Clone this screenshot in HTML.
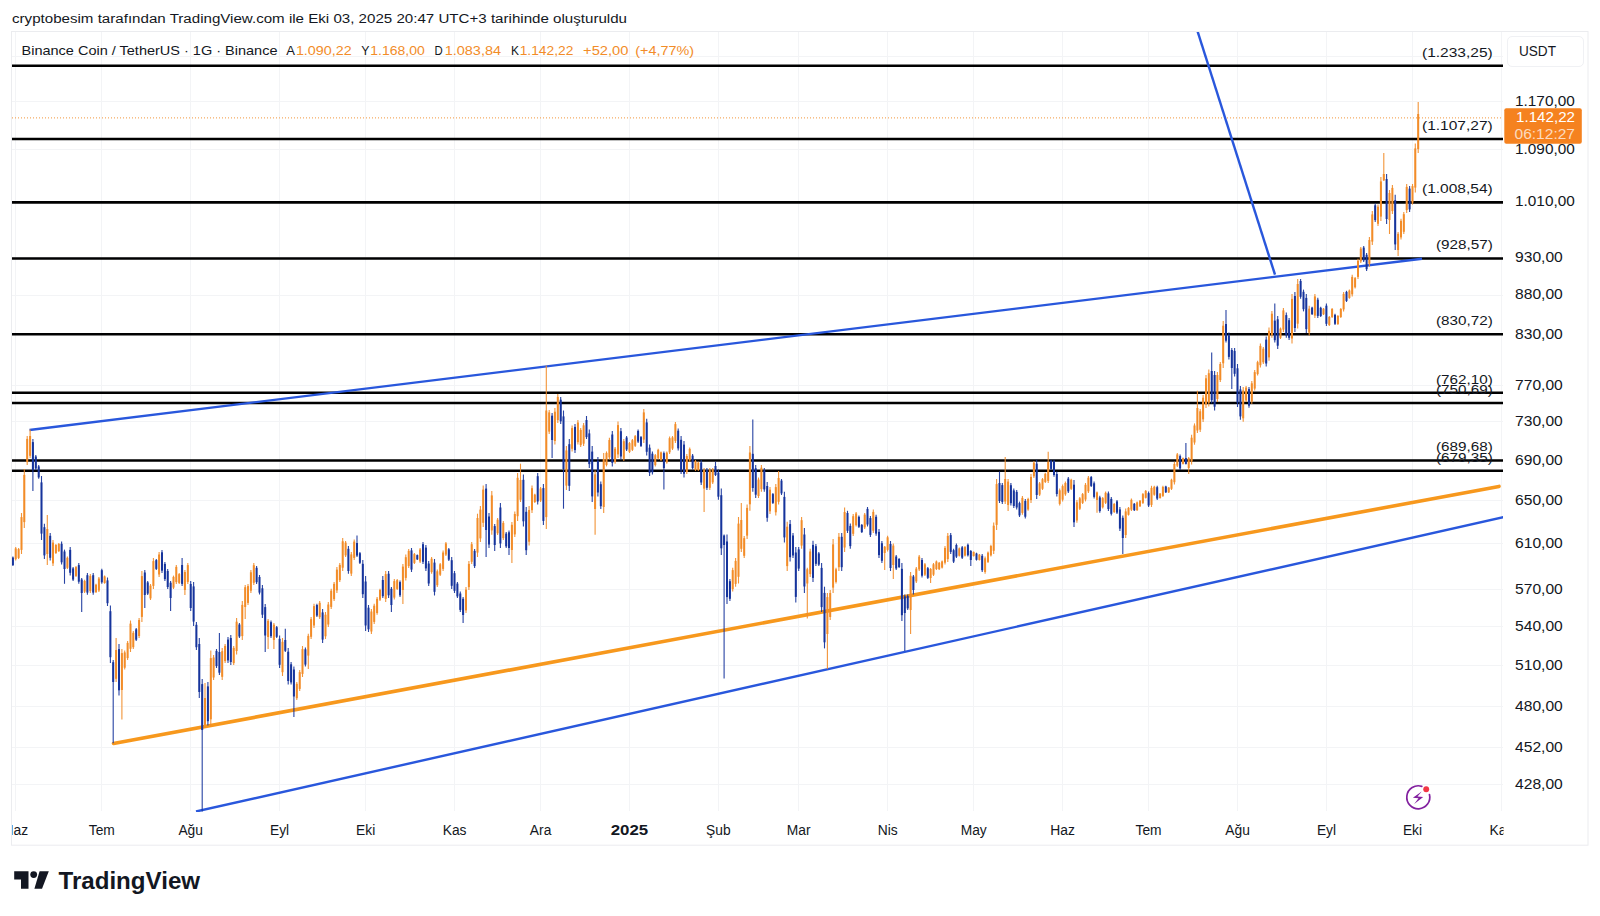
<!DOCTYPE html><html><head><meta charset="utf-8"><title>BNBUSDT</title><style>html,body{margin:0;padding:0;background:#fff}svg{display:block}</style></head><body><svg width="1600" height="916" viewBox="0 0 1600 916" font-family="'Liberation Sans', Arial, sans-serif">
<rect width="1600" height="916" fill="#fff"/>
<text x="12" y="23.3" font-size="13.7" fill="#131722" textLength="615" lengthAdjust="spacingAndGlyphs">cryptobesim tarafından TradingView.com ile Eki 03, 2025 20:47 UTC+3 tarihinde oluşturuldu</text>
<rect x="11.5" y="31.5" width="1576.5" height="813.7" fill="#fff" stroke="#ebecef" stroke-width="1"/>
<g stroke="#f3f4f6" stroke-width="1" shape-rendering="crispEdges">
<line x1="15.5" y1="32" x2="15.5" y2="811"/>
<line x1="101.5" y1="32" x2="101.5" y2="811"/>
<line x1="190.5" y1="32" x2="190.5" y2="811"/>
<line x1="279.5" y1="32" x2="279.5" y2="811"/>
<line x1="365.5" y1="32" x2="365.5" y2="811"/>
<line x1="454.5" y1="32" x2="454.5" y2="811"/>
<line x1="540.5" y1="32" x2="540.5" y2="811"/>
<line x1="629.5" y1="32" x2="629.5" y2="811"/>
<line x1="718.5" y1="32" x2="718.5" y2="811"/>
<line x1="798.5" y1="32" x2="798.5" y2="811"/>
<line x1="887.5" y1="32" x2="887.5" y2="811"/>
<line x1="973.5" y1="32" x2="973.5" y2="811"/>
<line x1="1062.5" y1="32" x2="1062.5" y2="811"/>
<line x1="1148.5" y1="32" x2="1148.5" y2="811"/>
<line x1="1237.5" y1="32" x2="1237.5" y2="811"/>
<line x1="1326.5" y1="32" x2="1326.5" y2="811"/>
<line x1="1412.5" y1="32" x2="1412.5" y2="811"/>
<line x1="1501.5" y1="32" x2="1501.5" y2="811"/>
<line x1="12" y1="56.5" x2="1503" y2="56.5"/>
<line x1="12" y1="101.5" x2="1503" y2="101.5"/>
<line x1="12" y1="149.5" x2="1503" y2="149.5"/>
<line x1="12" y1="201.5" x2="1503" y2="201.5"/>
<line x1="12" y1="257.5" x2="1503" y2="257.5"/>
<line x1="12" y1="295.5" x2="1503" y2="295.5"/>
<line x1="12" y1="334.5" x2="1503" y2="334.5"/>
<line x1="12" y1="385.5" x2="1503" y2="385.5"/>
<line x1="12" y1="421.5" x2="1503" y2="421.5"/>
<line x1="12" y1="460.5" x2="1503" y2="460.5"/>
<line x1="12" y1="500.5" x2="1503" y2="500.5"/>
<line x1="12" y1="543.5" x2="1503" y2="543.5"/>
<line x1="12" y1="589.5" x2="1503" y2="589.5"/>
<line x1="12" y1="626.5" x2="1503" y2="626.5"/>
<line x1="12" y1="665.5" x2="1503" y2="665.5"/>
<line x1="12" y1="706.5" x2="1503" y2="706.5"/>
<line x1="12" y1="747.5" x2="1503" y2="747.5"/>
<line x1="12" y1="784.5" x2="1503" y2="784.5"/>
</g>
<clipPath id="pane"><rect x="12" y="32" width="1491" height="780"/></clipPath>
<g clip-path="url(#pane)">
<line x1="12" y1="117.9" x2="1503" y2="117.9" stroke="#F28C28" stroke-width="1" stroke-dasharray="1 2" opacity="0.9"/>
<line x1="12" y1="65.8" x2="1503" y2="65.8" stroke="#000" stroke-width="2.6"/>
<line x1="12" y1="139.0" x2="1503" y2="139.0" stroke="#000" stroke-width="2.6"/>
<line x1="12" y1="202.4" x2="1503" y2="202.4" stroke="#000" stroke-width="2.6"/>
<line x1="12" y1="258.5" x2="1503" y2="258.5" stroke="#000" stroke-width="2.6"/>
<line x1="12" y1="334.2" x2="1503" y2="334.2" stroke="#000" stroke-width="2.6"/>
<line x1="12" y1="392.7" x2="1503" y2="392.7" stroke="#000" stroke-width="2.6"/>
<line x1="12" y1="403.0" x2="1503" y2="403.0" stroke="#000" stroke-width="2.6"/>
<line x1="12" y1="460.5" x2="1503" y2="460.5" stroke="#000" stroke-width="2.6"/>
<line x1="12" y1="470.8" x2="1503" y2="470.8" stroke="#000" stroke-width="2.6"/>
<line x1="29.5" y1="430" x2="1422" y2="258.7" stroke="#2957DC" stroke-width="2.4"/>
<line x1="196" y1="811.5" x2="1510" y2="515.6" stroke="#2957DC" stroke-width="2.4"/>
<line x1="1196.5" y1="28" x2="1275" y2="274.7" stroke="#2957DC" stroke-width="2.4"/>
<line x1="113.5" y1="743.5" x2="1499" y2="486.4" stroke="#F7981D" stroke-width="3.6" stroke-linecap="round"/>
<g stroke-width="1.1" opacity="0.92"><line x1="12.9" y1="556.5" x2="12.9" y2="566.0" stroke="#16349C"/><line x1="15.7" y1="547.0" x2="15.7" y2="560.5" stroke="#F28C28"/><line x1="18.6" y1="548.0" x2="18.6" y2="559.0" stroke="#F28C28"/><line x1="21.5" y1="513.0" x2="21.5" y2="554.0" stroke="#F28C28"/><line x1="24.3" y1="469.0" x2="24.3" y2="528.0" stroke="#F28C28"/><line x1="27.2" y1="436.0" x2="27.2" y2="465.0" stroke="#F28C28"/><line x1="30.1" y1="429.5" x2="30.1" y2="458.0" stroke="#F28C28"/><line x1="32.9" y1="439.0" x2="32.9" y2="491.0" stroke="#16349C"/><line x1="35.8" y1="455.0" x2="35.8" y2="470.0" stroke="#16349C"/><line x1="38.7" y1="465.0" x2="38.7" y2="478.7" stroke="#16349C"/><line x1="41.5" y1="476.0" x2="41.5" y2="540.0" stroke="#16349C"/><line x1="44.4" y1="523.7" x2="44.4" y2="559.0" stroke="#16349C"/><line x1="47.3" y1="515.0" x2="47.3" y2="565.0" stroke="#F28C28"/><line x1="50.2" y1="533.0" x2="50.2" y2="560.5" stroke="#16349C"/><line x1="53.0" y1="540.0" x2="53.0" y2="566.0" stroke="#F28C28"/><line x1="55.9" y1="544.0" x2="55.9" y2="554.0" stroke="#F28C28"/><line x1="58.8" y1="543.0" x2="58.8" y2="552.0" stroke="#F28C28"/><line x1="61.6" y1="541.5" x2="61.6" y2="564.6" stroke="#16349C"/><line x1="64.5" y1="549.6" x2="64.5" y2="583.8" stroke="#16349C"/><line x1="67.4" y1="556.5" x2="67.4" y2="569.0" stroke="#F28C28"/><line x1="70.2" y1="547.0" x2="70.2" y2="575.6" stroke="#16349C"/><line x1="73.1" y1="567.0" x2="73.1" y2="581.0" stroke="#16349C"/><line x1="76.0" y1="566.0" x2="76.0" y2="577.0" stroke="#F28C28"/><line x1="78.8" y1="563.0" x2="78.8" y2="583.8" stroke="#16349C"/><line x1="81.7" y1="578.0" x2="81.7" y2="612.0" stroke="#16349C"/><line x1="84.6" y1="579.7" x2="84.6" y2="593.0" stroke="#F28C28"/><line x1="87.4" y1="573.0" x2="87.4" y2="594.7" stroke="#16349C"/><line x1="90.3" y1="574.0" x2="90.3" y2="593.0" stroke="#F28C28"/><line x1="93.2" y1="573.0" x2="93.2" y2="594.7" stroke="#16349C"/><line x1="96.0" y1="583.8" x2="96.0" y2="593.0" stroke="#F28C28"/><line x1="98.9" y1="577.0" x2="98.9" y2="592.0" stroke="#F28C28"/><line x1="101.8" y1="568.7" x2="101.8" y2="583.8" stroke="#16349C"/><line x1="104.6" y1="575.6" x2="104.6" y2="583.8" stroke="#F28C28"/><line x1="107.5" y1="577.5" x2="107.5" y2="606.0" stroke="#16349C"/><line x1="110.4" y1="605.5" x2="110.4" y2="663.0" stroke="#16349C"/><line x1="113.2" y1="660.0" x2="113.2" y2="743.3" stroke="#16349C"/><line x1="116.1" y1="638.0" x2="116.1" y2="682.0" stroke="#F28C28"/><line x1="119.0" y1="644.0" x2="119.0" y2="695.5" stroke="#16349C"/><line x1="121.9" y1="649.0" x2="121.9" y2="719.6" stroke="#F28C28"/><line x1="124.7" y1="650.5" x2="124.7" y2="669.6" stroke="#F28C28"/><line x1="127.6" y1="641.0" x2="127.6" y2="660.0" stroke="#F28C28"/><line x1="130.5" y1="620.5" x2="130.5" y2="652.0" stroke="#F28C28"/><line x1="133.3" y1="631.0" x2="133.3" y2="649.0" stroke="#F28C28"/><line x1="136.2" y1="628.0" x2="136.2" y2="641.0" stroke="#16349C"/><line x1="139.1" y1="618.0" x2="139.1" y2="638.0" stroke="#F28C28"/><line x1="141.9" y1="571.0" x2="141.9" y2="622.0" stroke="#F28C28"/><line x1="144.8" y1="570.0" x2="144.8" y2="608.0" stroke="#16349C"/><line x1="147.7" y1="581.0" x2="147.7" y2="595.0" stroke="#16349C"/><line x1="150.5" y1="584.0" x2="150.5" y2="600.0" stroke="#F28C28"/><line x1="153.4" y1="558.0" x2="153.4" y2="589.0" stroke="#F28C28"/><line x1="156.3" y1="559.0" x2="156.3" y2="570.0" stroke="#16349C"/><line x1="159.1" y1="552.0" x2="159.1" y2="577.0" stroke="#F28C28"/><line x1="162.0" y1="550.0" x2="162.0" y2="573.0" stroke="#16349C"/><line x1="164.9" y1="562.0" x2="164.9" y2="581.0" stroke="#16349C"/><line x1="167.7" y1="569.0" x2="167.7" y2="589.0" stroke="#16349C"/><line x1="170.6" y1="581.0" x2="170.6" y2="611.0" stroke="#16349C"/><line x1="173.5" y1="575.6" x2="173.5" y2="589.0" stroke="#F28C28"/><line x1="176.3" y1="565.0" x2="176.3" y2="584.0" stroke="#F28C28"/><line x1="179.2" y1="573.0" x2="179.2" y2="584.0" stroke="#F28C28"/><line x1="182.1" y1="558.0" x2="182.1" y2="586.0" stroke="#16349C"/><line x1="184.9" y1="570.0" x2="184.9" y2="595.0" stroke="#F28C28"/><line x1="187.8" y1="563.0" x2="187.8" y2="584.0" stroke="#F28C28"/><line x1="190.7" y1="581.0" x2="190.7" y2="611.0" stroke="#16349C"/><line x1="193.6" y1="582.0" x2="193.6" y2="626.0" stroke="#16349C"/><line x1="196.4" y1="622.0" x2="196.4" y2="650.0" stroke="#16349C"/><line x1="199.3" y1="638.0" x2="199.3" y2="698.0" stroke="#16349C"/><line x1="202.2" y1="679.0" x2="202.2" y2="811.5" stroke="#16349C"/><line x1="205.0" y1="683.0" x2="205.0" y2="728.0" stroke="#F28C28"/><line x1="207.9" y1="682.0" x2="207.9" y2="725.5" stroke="#16349C"/><line x1="210.8" y1="650.5" x2="210.8" y2="727.0" stroke="#F28C28"/><line x1="213.6" y1="655.0" x2="213.6" y2="680.0" stroke="#F28C28"/><line x1="216.5" y1="649.0" x2="216.5" y2="668.0" stroke="#16349C"/><line x1="219.4" y1="633.0" x2="219.4" y2="675.0" stroke="#16349C"/><line x1="222.2" y1="648.0" x2="222.2" y2="680.0" stroke="#F28C28"/><line x1="225.1" y1="644.0" x2="225.1" y2="663.0" stroke="#F28C28"/><line x1="228.0" y1="637.0" x2="228.0" y2="663.0" stroke="#16349C"/><line x1="230.8" y1="635.0" x2="230.8" y2="665.0" stroke="#16349C"/><line x1="233.7" y1="646.0" x2="233.7" y2="665.0" stroke="#F28C28"/><line x1="236.6" y1="618.0" x2="236.6" y2="654.6" stroke="#F28C28"/><line x1="239.4" y1="623.0" x2="239.4" y2="638.0" stroke="#16349C"/><line x1="242.3" y1="601.0" x2="242.3" y2="640.0" stroke="#F28C28"/><line x1="245.2" y1="585.0" x2="245.2" y2="619.0" stroke="#F28C28"/><line x1="248.0" y1="584.0" x2="248.0" y2="605.0" stroke="#F28C28"/><line x1="250.9" y1="570.0" x2="250.9" y2="593.0" stroke="#F28C28"/><line x1="253.8" y1="563.0" x2="253.8" y2="585.0" stroke="#F28C28"/><line x1="256.6" y1="566.0" x2="256.6" y2="584.0" stroke="#16349C"/><line x1="259.5" y1="575.0" x2="259.5" y2="594.5" stroke="#16349C"/><line x1="262.4" y1="585.0" x2="262.4" y2="618.0" stroke="#16349C"/><line x1="265.2" y1="604.0" x2="265.2" y2="652.0" stroke="#16349C"/><line x1="268.1" y1="619.0" x2="268.1" y2="649.0" stroke="#F28C28"/><line x1="271.0" y1="620.5" x2="271.0" y2="638.0" stroke="#16349C"/><line x1="273.9" y1="623.0" x2="273.9" y2="649.0" stroke="#F28C28"/><line x1="276.7" y1="626.0" x2="276.7" y2="638.0" stroke="#16349C"/><line x1="279.6" y1="635.5" x2="279.6" y2="668.0" stroke="#16349C"/><line x1="282.5" y1="638.0" x2="282.5" y2="676.0" stroke="#F28C28"/><line x1="285.3" y1="628.7" x2="285.3" y2="652.0" stroke="#16349C"/><line x1="288.2" y1="648.0" x2="288.2" y2="684.6" stroke="#16349C"/><line x1="291.1" y1="662.0" x2="291.1" y2="684.6" stroke="#16349C"/><line x1="293.9" y1="666.5" x2="293.9" y2="717.0" stroke="#16349C"/><line x1="296.8" y1="682.0" x2="296.8" y2="700.0" stroke="#F28C28"/><line x1="299.7" y1="670.0" x2="299.7" y2="691.0" stroke="#F28C28"/><line x1="302.5" y1="646.0" x2="302.5" y2="677.0" stroke="#F28C28"/><line x1="305.4" y1="647.4" x2="305.4" y2="666.5" stroke="#16349C"/><line x1="308.3" y1="633.7" x2="308.3" y2="669.0" stroke="#F28C28"/><line x1="311.1" y1="617.0" x2="311.1" y2="639.0" stroke="#F28C28"/><line x1="314.0" y1="603.7" x2="314.0" y2="628.0" stroke="#F28C28"/><line x1="316.9" y1="603.7" x2="316.9" y2="617.0" stroke="#16349C"/><line x1="319.7" y1="601.0" x2="319.7" y2="619.0" stroke="#F28C28"/><line x1="322.6" y1="609.0" x2="322.6" y2="643.0" stroke="#16349C"/><line x1="325.5" y1="612.0" x2="325.5" y2="639.0" stroke="#F28C28"/><line x1="328.3" y1="602.0" x2="328.3" y2="627.0" stroke="#F28C28"/><line x1="331.2" y1="588.7" x2="331.2" y2="609.0" stroke="#F28C28"/><line x1="334.1" y1="582.0" x2="334.1" y2="601.0" stroke="#F28C28"/><line x1="336.9" y1="567.0" x2="336.9" y2="593.0" stroke="#F28C28"/><line x1="339.8" y1="563.0" x2="339.8" y2="582.0" stroke="#F28C28"/><line x1="342.7" y1="538.0" x2="342.7" y2="571.0" stroke="#F28C28"/><line x1="345.6" y1="541.0" x2="345.6" y2="557.0" stroke="#F28C28"/><line x1="348.4" y1="546.0" x2="348.4" y2="573.7" stroke="#16349C"/><line x1="351.3" y1="552.0" x2="351.3" y2="576.0" stroke="#F28C28"/><line x1="354.2" y1="539.6" x2="354.2" y2="560.0" stroke="#F28C28"/><line x1="357.0" y1="535.5" x2="357.0" y2="557.0" stroke="#16349C"/><line x1="359.9" y1="552.0" x2="359.9" y2="564.0" stroke="#16349C"/><line x1="362.8" y1="560.0" x2="362.8" y2="598.0" stroke="#16349C"/><line x1="365.6" y1="576.0" x2="365.6" y2="631.0" stroke="#16349C"/><line x1="368.5" y1="605.0" x2="368.5" y2="632.0" stroke="#16349C"/><line x1="371.4" y1="609.0" x2="371.4" y2="634.0" stroke="#F28C28"/><line x1="374.2" y1="603.7" x2="374.2" y2="624.0" stroke="#F28C28"/><line x1="377.1" y1="597.0" x2="377.1" y2="614.7" stroke="#F28C28"/><line x1="380.0" y1="588.7" x2="380.0" y2="601.0" stroke="#F28C28"/><line x1="382.8" y1="576.0" x2="382.8" y2="598.0" stroke="#16349C"/><line x1="385.7" y1="571.0" x2="385.7" y2="602.0" stroke="#F28C28"/><line x1="388.6" y1="571.0" x2="388.6" y2="598.0" stroke="#16349C"/><line x1="391.4" y1="587.0" x2="391.4" y2="612.0" stroke="#16349C"/><line x1="394.3" y1="579.0" x2="394.3" y2="599.6" stroke="#F28C28"/><line x1="397.2" y1="579.0" x2="397.2" y2="590.0" stroke="#F28C28"/><line x1="400.0" y1="580.5" x2="400.0" y2="597.0" stroke="#16349C"/><line x1="402.9" y1="564.0" x2="402.9" y2="604.0" stroke="#F28C28"/><line x1="405.8" y1="554.6" x2="405.8" y2="580.5" stroke="#F28C28"/><line x1="408.7" y1="549.0" x2="408.7" y2="568.0" stroke="#F28C28"/><line x1="411.5" y1="548.0" x2="411.5" y2="572.0" stroke="#16349C"/><line x1="414.4" y1="553.0" x2="414.4" y2="564.0" stroke="#F28C28"/><line x1="417.3" y1="554.6" x2="417.3" y2="560.0" stroke="#16349C"/><line x1="420.1" y1="548.0" x2="420.1" y2="563.0" stroke="#F28C28"/><line x1="423.0" y1="542.0" x2="423.0" y2="564.0" stroke="#16349C"/><line x1="425.9" y1="545.0" x2="425.9" y2="571.0" stroke="#16349C"/><line x1="428.7" y1="561.0" x2="428.7" y2="586.0" stroke="#16349C"/><line x1="431.6" y1="557.0" x2="431.6" y2="573.7" stroke="#F28C28"/><line x1="434.5" y1="559.0" x2="434.5" y2="595.5" stroke="#16349C"/><line x1="437.3" y1="569.6" x2="437.3" y2="587.0" stroke="#F28C28"/><line x1="440.2" y1="563.0" x2="440.2" y2="576.0" stroke="#F28C28"/><line x1="443.1" y1="550.5" x2="443.1" y2="571.0" stroke="#F28C28"/><line x1="445.9" y1="542.0" x2="445.9" y2="556.0" stroke="#F28C28"/><line x1="448.8" y1="548.0" x2="448.8" y2="561.0" stroke="#16349C"/><line x1="451.7" y1="557.0" x2="451.7" y2="589.0" stroke="#16349C"/><line x1="454.5" y1="571.0" x2="454.5" y2="593.0" stroke="#16349C"/><line x1="457.4" y1="582.0" x2="457.4" y2="598.0" stroke="#16349C"/><line x1="460.3" y1="591.5" x2="460.3" y2="612.0" stroke="#16349C"/><line x1="463.1" y1="597.0" x2="463.1" y2="623.0" stroke="#16349C"/><line x1="466.0" y1="587.0" x2="466.0" y2="613.0" stroke="#F28C28"/><line x1="468.9" y1="561.0" x2="468.9" y2="590.0" stroke="#F28C28"/><line x1="471.7" y1="542.0" x2="471.7" y2="564.0" stroke="#F28C28"/><line x1="474.6" y1="549.0" x2="474.6" y2="568.0" stroke="#16349C"/><line x1="477.5" y1="513.7" x2="477.5" y2="557.0" stroke="#F28C28"/><line x1="480.4" y1="506.0" x2="480.4" y2="542.0" stroke="#F28C28"/><line x1="483.2" y1="485.5" x2="483.2" y2="527.0" stroke="#F28C28"/><line x1="486.1" y1="484.0" x2="486.1" y2="557.0" stroke="#16349C"/><line x1="489.0" y1="513.0" x2="489.0" y2="548.0" stroke="#16349C"/><line x1="491.8" y1="491.0" x2="491.8" y2="534.7" stroke="#F28C28"/><line x1="494.7" y1="524.0" x2="494.7" y2="551.0" stroke="#16349C"/><line x1="497.6" y1="518.0" x2="497.6" y2="535.0" stroke="#F28C28"/><line x1="500.4" y1="503.0" x2="500.4" y2="548.0" stroke="#16349C"/><line x1="503.3" y1="521.0" x2="503.3" y2="540.0" stroke="#F28C28"/><line x1="506.2" y1="532.0" x2="506.2" y2="548.0" stroke="#16349C"/><line x1="509.0" y1="530.6" x2="509.0" y2="555.0" stroke="#16349C"/><line x1="511.9" y1="522.0" x2="511.9" y2="563.0" stroke="#F28C28"/><line x1="514.8" y1="511.5" x2="514.8" y2="537.0" stroke="#F28C28"/><line x1="517.6" y1="473.0" x2="517.6" y2="521.0" stroke="#F28C28"/><line x1="520.5" y1="463.7" x2="520.5" y2="502.0" stroke="#F28C28"/><line x1="523.4" y1="474.6" x2="523.4" y2="526.5" stroke="#16349C"/><line x1="526.2" y1="507.0" x2="526.2" y2="555.0" stroke="#16349C"/><line x1="529.1" y1="506.0" x2="529.1" y2="545.6" stroke="#F28C28"/><line x1="532.0" y1="485.5" x2="532.0" y2="513.0" stroke="#F28C28"/><line x1="534.8" y1="493.7" x2="534.8" y2="503.0" stroke="#F28C28"/><line x1="537.7" y1="473.0" x2="537.7" y2="504.6" stroke="#16349C"/><line x1="540.6" y1="487.0" x2="540.6" y2="502.0" stroke="#F28C28"/><line x1="543.4" y1="484.0" x2="543.4" y2="525.0" stroke="#16349C"/><line x1="546.3" y1="365.5" x2="546.3" y2="529.0" stroke="#F28C28"/><line x1="549.2" y1="410.0" x2="549.2" y2="434.0" stroke="#F28C28"/><line x1="552.1" y1="413.0" x2="552.1" y2="458.0" stroke="#16349C"/><line x1="554.9" y1="408.0" x2="554.9" y2="444.6" stroke="#F28C28"/><line x1="557.8" y1="394.0" x2="557.8" y2="423.0" stroke="#F28C28"/><line x1="560.7" y1="397.0" x2="560.7" y2="424.0" stroke="#16349C"/><line x1="563.5" y1="410.5" x2="563.5" y2="508.7" stroke="#16349C"/><line x1="566.4" y1="446.0" x2="566.4" y2="490.0" stroke="#F28C28"/><line x1="569.3" y1="439.0" x2="569.3" y2="491.0" stroke="#16349C"/><line x1="572.1" y1="425.5" x2="572.1" y2="451.4" stroke="#F28C28"/><line x1="575.0" y1="424.0" x2="575.0" y2="453.0" stroke="#16349C"/><line x1="577.9" y1="420.0" x2="577.9" y2="444.6" stroke="#F28C28"/><line x1="580.7" y1="428.0" x2="580.7" y2="447.0" stroke="#F28C28"/><line x1="583.6" y1="423.0" x2="583.6" y2="446.0" stroke="#F28C28"/><line x1="586.5" y1="416.0" x2="586.5" y2="439.0" stroke="#16349C"/><line x1="589.3" y1="429.6" x2="589.3" y2="468.0" stroke="#16349C"/><line x1="592.2" y1="446.0" x2="592.2" y2="502.0" stroke="#16349C"/><line x1="595.1" y1="470.5" x2="595.1" y2="534.7" stroke="#F28C28"/><line x1="597.9" y1="457.0" x2="597.9" y2="496.5" stroke="#16349C"/><line x1="600.8" y1="481.5" x2="600.8" y2="509.0" stroke="#16349C"/><line x1="603.7" y1="453.0" x2="603.7" y2="513.0" stroke="#F28C28"/><line x1="606.5" y1="451.4" x2="606.5" y2="466.4" stroke="#F28C28"/><line x1="609.4" y1="437.8" x2="609.4" y2="459.6" stroke="#F28C28"/><line x1="612.3" y1="431.0" x2="612.3" y2="466.4" stroke="#16349C"/><line x1="615.1" y1="447.0" x2="615.1" y2="463.7" stroke="#F28C28"/><line x1="618.0" y1="421.4" x2="618.0" y2="458.0" stroke="#F28C28"/><line x1="620.9" y1="428.0" x2="620.9" y2="459.6" stroke="#16349C"/><line x1="623.8" y1="439.0" x2="623.8" y2="461.0" stroke="#F28C28"/><line x1="626.6" y1="436.0" x2="626.6" y2="451.0" stroke="#16349C"/><line x1="629.5" y1="442.0" x2="629.5" y2="453.0" stroke="#F28C28"/><line x1="632.4" y1="439.0" x2="632.4" y2="451.0" stroke="#F28C28"/><line x1="635.2" y1="435.0" x2="635.2" y2="447.0" stroke="#F28C28"/><line x1="638.1" y1="429.6" x2="638.1" y2="443.0" stroke="#16349C"/><line x1="641.0" y1="436.0" x2="641.0" y2="447.0" stroke="#16349C"/><line x1="643.8" y1="409.0" x2="643.8" y2="443.0" stroke="#F28C28"/><line x1="646.7" y1="418.7" x2="646.7" y2="455.5" stroke="#16349C"/><line x1="649.6" y1="444.6" x2="649.6" y2="476.0" stroke="#16349C"/><line x1="652.4" y1="451.4" x2="652.4" y2="474.6" stroke="#16349C"/><line x1="655.3" y1="454.0" x2="655.3" y2="466.4" stroke="#F28C28"/><line x1="658.2" y1="448.7" x2="658.2" y2="459.6" stroke="#F28C28"/><line x1="661.0" y1="451.4" x2="661.0" y2="461.0" stroke="#F28C28"/><line x1="663.9" y1="451.4" x2="663.9" y2="489.6" stroke="#16349C"/><line x1="666.8" y1="451.4" x2="666.8" y2="463.7" stroke="#F28C28"/><line x1="669.6" y1="436.4" x2="669.6" y2="454.0" stroke="#F28C28"/><line x1="672.5" y1="436.0" x2="672.5" y2="450.0" stroke="#F28C28"/><line x1="675.4" y1="422.0" x2="675.4" y2="443.0" stroke="#F28C28"/><line x1="678.2" y1="428.5" x2="678.2" y2="450.6" stroke="#16349C"/><line x1="681.1" y1="436.0" x2="681.1" y2="474.0" stroke="#16349C"/><line x1="684.0" y1="441.0" x2="684.0" y2="477.5" stroke="#16349C"/><line x1="686.8" y1="454.0" x2="686.8" y2="474.0" stroke="#F28C28"/><line x1="689.7" y1="447.5" x2="689.7" y2="461.7" stroke="#F28C28"/><line x1="692.6" y1="454.0" x2="692.6" y2="469.6" stroke="#16349C"/><line x1="695.5" y1="460.0" x2="695.5" y2="471.0" stroke="#F28C28"/><line x1="698.3" y1="461.7" x2="698.3" y2="471.0" stroke="#F28C28"/><line x1="701.2" y1="460.0" x2="701.2" y2="485.0" stroke="#16349C"/><line x1="704.1" y1="468.0" x2="704.1" y2="512.0" stroke="#F28C28"/><line x1="706.9" y1="468.0" x2="706.9" y2="490.0" stroke="#16349C"/><line x1="709.8" y1="468.0" x2="709.8" y2="490.0" stroke="#F28C28"/><line x1="712.7" y1="468.0" x2="712.7" y2="484.0" stroke="#F28C28"/><line x1="715.5" y1="461.7" x2="715.5" y2="476.0" stroke="#16349C"/><line x1="718.4" y1="469.6" x2="718.4" y2="499.7" stroke="#16349C"/><line x1="721.3" y1="488.6" x2="721.3" y2="555.0" stroke="#16349C"/><line x1="724.1" y1="534.5" x2="724.1" y2="678.5" stroke="#16349C"/><line x1="727.0" y1="534.5" x2="727.0" y2="604.0" stroke="#16349C"/><line x1="729.9" y1="579.0" x2="729.9" y2="601.0" stroke="#16349C"/><line x1="732.7" y1="567.7" x2="732.7" y2="591.5" stroke="#F28C28"/><line x1="735.6" y1="558.0" x2="735.6" y2="586.7" stroke="#F28C28"/><line x1="738.5" y1="517.0" x2="738.5" y2="583.5" stroke="#F28C28"/><line x1="741.3" y1="503.0" x2="741.3" y2="552.0" stroke="#F28C28"/><line x1="744.2" y1="536.0" x2="744.2" y2="558.0" stroke="#F28C28"/><line x1="747.1" y1="504.4" x2="747.1" y2="539.0" stroke="#F28C28"/><line x1="749.9" y1="446.0" x2="749.9" y2="510.8" stroke="#F28C28"/><line x1="752.8" y1="419.6" x2="752.8" y2="491.8" stroke="#16349C"/><line x1="755.7" y1="465.0" x2="755.7" y2="498.0" stroke="#16349C"/><line x1="758.5" y1="477.5" x2="758.5" y2="498.0" stroke="#F28C28"/><line x1="761.4" y1="465.0" x2="761.4" y2="491.8" stroke="#F28C28"/><line x1="764.3" y1="468.0" x2="764.3" y2="491.8" stroke="#16349C"/><line x1="767.2" y1="482.0" x2="767.2" y2="521.8" stroke="#16349C"/><line x1="770.0" y1="487.0" x2="770.0" y2="514.0" stroke="#F28C28"/><line x1="772.9" y1="493.0" x2="772.9" y2="504.0" stroke="#16349C"/><line x1="775.8" y1="484.0" x2="775.8" y2="515.5" stroke="#F28C28"/><line x1="778.6" y1="471.0" x2="778.6" y2="504.4" stroke="#F28C28"/><line x1="781.5" y1="479.0" x2="781.5" y2="495.0" stroke="#16349C"/><line x1="784.4" y1="491.8" x2="784.4" y2="542.4" stroke="#16349C"/><line x1="787.2" y1="521.8" x2="787.2" y2="571.0" stroke="#F28C28"/><line x1="790.1" y1="520.0" x2="790.1" y2="561.4" stroke="#16349C"/><line x1="793.0" y1="533.0" x2="793.0" y2="558.0" stroke="#16349C"/><line x1="795.8" y1="547.0" x2="795.8" y2="602.5" stroke="#16349C"/><line x1="798.7" y1="547.0" x2="798.7" y2="571.0" stroke="#16349C"/><line x1="801.6" y1="517.0" x2="801.6" y2="548.7" stroke="#F28C28"/><line x1="804.4" y1="528.0" x2="804.4" y2="593.0" stroke="#16349C"/><line x1="807.3" y1="567.7" x2="807.3" y2="618.4" stroke="#F28C28"/><line x1="810.2" y1="548.7" x2="810.2" y2="577.0" stroke="#F28C28"/><line x1="813.0" y1="540.8" x2="813.0" y2="582.0" stroke="#16349C"/><line x1="815.9" y1="544.0" x2="815.9" y2="566.0" stroke="#16349C"/><line x1="818.8" y1="552.0" x2="818.8" y2="566.0" stroke="#16349C"/><line x1="821.6" y1="563.0" x2="821.6" y2="612.0" stroke="#16349C"/><line x1="824.5" y1="586.7" x2="824.5" y2="648.4" stroke="#16349C"/><line x1="827.4" y1="593.0" x2="827.4" y2="669.0" stroke="#F28C28"/><line x1="830.2" y1="590.0" x2="830.2" y2="620.0" stroke="#F28C28"/><line x1="833.1" y1="539.0" x2="833.1" y2="593.0" stroke="#F28C28"/><line x1="836.0" y1="567.7" x2="836.0" y2="583.5" stroke="#F28C28"/><line x1="838.9" y1="533.0" x2="838.9" y2="571.0" stroke="#F28C28"/><line x1="841.7" y1="533.0" x2="841.7" y2="571.0" stroke="#16349C"/><line x1="844.6" y1="507.6" x2="844.6" y2="552.0" stroke="#F28C28"/><line x1="847.5" y1="510.8" x2="847.5" y2="533.0" stroke="#16349C"/><line x1="850.3" y1="523.4" x2="850.3" y2="548.7" stroke="#16349C"/><line x1="853.2" y1="514.0" x2="853.2" y2="536.0" stroke="#F28C28"/><line x1="856.1" y1="512.0" x2="856.1" y2="526.6" stroke="#F28C28"/><line x1="858.9" y1="515.5" x2="858.9" y2="528.0" stroke="#16349C"/><line x1="861.8" y1="524.0" x2="861.8" y2="533.0" stroke="#16349C"/><line x1="864.7" y1="513.0" x2="864.7" y2="529.0" stroke="#F28C28"/><line x1="867.5" y1="507.0" x2="867.5" y2="526.5" stroke="#16349C"/><line x1="870.4" y1="516.0" x2="870.4" y2="537.0" stroke="#16349C"/><line x1="873.3" y1="509.5" x2="873.3" y2="533.0" stroke="#F28C28"/><line x1="876.1" y1="514.7" x2="876.1" y2="535.7" stroke="#16349C"/><line x1="879.0" y1="529.0" x2="879.0" y2="558.0" stroke="#16349C"/><line x1="881.9" y1="541.0" x2="881.9" y2="563.0" stroke="#16349C"/><line x1="884.7" y1="546.0" x2="884.7" y2="570.0" stroke="#F28C28"/><line x1="887.6" y1="535.7" x2="887.6" y2="551.4" stroke="#F28C28"/><line x1="890.5" y1="541.0" x2="890.5" y2="571.0" stroke="#16349C"/><line x1="893.3" y1="543.5" x2="893.3" y2="579.0" stroke="#F28C28"/><line x1="896.2" y1="555.0" x2="896.2" y2="570.0" stroke="#16349C"/><line x1="899.1" y1="558.0" x2="899.1" y2="568.0" stroke="#16349C"/><line x1="901.9" y1="563.0" x2="901.9" y2="621.0" stroke="#16349C"/><line x1="904.8" y1="594.6" x2="904.8" y2="651.0" stroke="#16349C"/><line x1="907.7" y1="594.6" x2="907.7" y2="610.0" stroke="#16349C"/><line x1="910.6" y1="572.0" x2="910.6" y2="634.0" stroke="#F28C28"/><line x1="913.4" y1="575.0" x2="913.4" y2="594.6" stroke="#16349C"/><line x1="916.3" y1="567.0" x2="916.3" y2="583.0" stroke="#F28C28"/><line x1="919.2" y1="555.0" x2="919.2" y2="571.0" stroke="#F28C28"/><line x1="922.0" y1="558.0" x2="922.0" y2="577.6" stroke="#16349C"/><line x1="924.9" y1="563.0" x2="924.9" y2="576.0" stroke="#F28C28"/><line x1="927.8" y1="567.0" x2="927.8" y2="579.0" stroke="#16349C"/><line x1="930.6" y1="568.0" x2="930.6" y2="583.0" stroke="#F28C28"/><line x1="933.5" y1="563.0" x2="933.5" y2="576.0" stroke="#F28C28"/><line x1="936.4" y1="560.6" x2="936.4" y2="570.0" stroke="#F28C28"/><line x1="939.2" y1="562.0" x2="939.2" y2="570.0" stroke="#F28C28"/><line x1="942.1" y1="560.6" x2="942.1" y2="568.4" stroke="#F28C28"/><line x1="945.0" y1="546.0" x2="945.0" y2="564.5" stroke="#F28C28"/><line x1="947.8" y1="533.0" x2="947.8" y2="562.0" stroke="#F28C28"/><line x1="950.7" y1="533.0" x2="950.7" y2="554.0" stroke="#16349C"/><line x1="953.6" y1="548.8" x2="953.6" y2="563.0" stroke="#16349C"/><line x1="956.4" y1="543.5" x2="956.4" y2="558.0" stroke="#16349C"/><line x1="959.3" y1="547.5" x2="959.3" y2="556.6" stroke="#F28C28"/><line x1="962.2" y1="546.0" x2="962.2" y2="559.0" stroke="#16349C"/><line x1="965.0" y1="546.0" x2="965.0" y2="556.6" stroke="#F28C28"/><line x1="967.9" y1="543.5" x2="967.9" y2="556.6" stroke="#16349C"/><line x1="970.8" y1="550.0" x2="970.8" y2="566.0" stroke="#16349C"/><line x1="973.6" y1="551.4" x2="973.6" y2="556.6" stroke="#F28C28"/><line x1="976.5" y1="552.7" x2="976.5" y2="560.6" stroke="#16349C"/><line x1="979.4" y1="554.0" x2="979.4" y2="560.6" stroke="#F28C28"/><line x1="982.2" y1="554.0" x2="982.2" y2="572.0" stroke="#16349C"/><line x1="985.1" y1="556.6" x2="985.1" y2="573.7" stroke="#F28C28"/><line x1="988.0" y1="551.4" x2="988.0" y2="563.0" stroke="#F28C28"/><line x1="990.9" y1="544.8" x2="990.9" y2="556.6" stroke="#F28C28"/><line x1="993.7" y1="522.6" x2="993.7" y2="554.0" stroke="#F28C28"/><line x1="996.6" y1="479.0" x2="996.6" y2="530.0" stroke="#F28C28"/><line x1="999.5" y1="471.5" x2="999.5" y2="503.0" stroke="#16349C"/><line x1="1002.3" y1="483.0" x2="1002.3" y2="504.0" stroke="#16349C"/><line x1="1005.2" y1="457.0" x2="1005.2" y2="504.0" stroke="#F28C28"/><line x1="1008.1" y1="479.0" x2="1008.1" y2="511.0" stroke="#F28C28"/><line x1="1010.9" y1="483.0" x2="1010.9" y2="505.5" stroke="#16349C"/><line x1="1013.8" y1="488.5" x2="1013.8" y2="508.0" stroke="#16349C"/><line x1="1016.7" y1="490.0" x2="1016.7" y2="509.5" stroke="#16349C"/><line x1="1019.5" y1="501.6" x2="1019.5" y2="517.0" stroke="#16349C"/><line x1="1022.4" y1="496.0" x2="1022.4" y2="514.7" stroke="#F28C28"/><line x1="1025.3" y1="499.0" x2="1025.3" y2="518.6" stroke="#16349C"/><line x1="1028.1" y1="497.7" x2="1028.1" y2="510.8" stroke="#F28C28"/><line x1="1031.0" y1="474.0" x2="1031.0" y2="503.0" stroke="#F28C28"/><line x1="1033.9" y1="461.0" x2="1033.9" y2="478.0" stroke="#F28C28"/><line x1="1036.7" y1="459.7" x2="1036.7" y2="499.0" stroke="#16349C"/><line x1="1039.6" y1="482.0" x2="1039.6" y2="496.0" stroke="#F28C28"/><line x1="1042.5" y1="478.0" x2="1042.5" y2="490.0" stroke="#F28C28"/><line x1="1045.3" y1="472.8" x2="1045.3" y2="483.0" stroke="#F28C28"/><line x1="1048.2" y1="451.8" x2="1048.2" y2="483.0" stroke="#F28C28"/><line x1="1051.1" y1="459.7" x2="1051.1" y2="470.0" stroke="#16349C"/><line x1="1054.0" y1="459.7" x2="1054.0" y2="476.7" stroke="#16349C"/><line x1="1056.8" y1="471.5" x2="1056.8" y2="496.5" stroke="#16349C"/><line x1="1059.7" y1="488.6" x2="1059.7" y2="505.6" stroke="#F28C28"/><line x1="1062.6" y1="484.4" x2="1062.6" y2="501.4" stroke="#F28C28"/><line x1="1065.4" y1="481.6" x2="1065.4" y2="495.7" stroke="#F28C28"/><line x1="1068.3" y1="477.0" x2="1068.3" y2="493.0" stroke="#16349C"/><line x1="1071.2" y1="478.7" x2="1071.2" y2="490.0" stroke="#F28C28"/><line x1="1074.0" y1="480.0" x2="1074.0" y2="527.0" stroke="#16349C"/><line x1="1076.9" y1="500.0" x2="1076.9" y2="522.7" stroke="#F28C28"/><line x1="1079.8" y1="497.0" x2="1079.8" y2="510.0" stroke="#F28C28"/><line x1="1082.6" y1="493.0" x2="1082.6" y2="504.0" stroke="#F28C28"/><line x1="1085.5" y1="483.0" x2="1085.5" y2="501.4" stroke="#F28C28"/><line x1="1088.4" y1="476.0" x2="1088.4" y2="493.0" stroke="#F28C28"/><line x1="1091.2" y1="476.0" x2="1091.2" y2="487.0" stroke="#16349C"/><line x1="1094.1" y1="481.6" x2="1094.1" y2="498.6" stroke="#16349C"/><line x1="1097.0" y1="491.5" x2="1097.0" y2="512.8" stroke="#F28C28"/><line x1="1099.8" y1="495.7" x2="1099.8" y2="512.8" stroke="#16349C"/><line x1="1102.7" y1="497.0" x2="1102.7" y2="508.5" stroke="#F28C28"/><line x1="1105.6" y1="491.5" x2="1105.6" y2="504.0" stroke="#F28C28"/><line x1="1108.4" y1="491.5" x2="1108.4" y2="511.0" stroke="#16349C"/><line x1="1111.3" y1="497.0" x2="1111.3" y2="515.6" stroke="#16349C"/><line x1="1114.2" y1="503.0" x2="1114.2" y2="513.0" stroke="#F28C28"/><line x1="1117.0" y1="500.0" x2="1117.0" y2="514.0" stroke="#16349C"/><line x1="1119.9" y1="507.0" x2="1119.9" y2="531.0" stroke="#16349C"/><line x1="1122.8" y1="515.6" x2="1122.8" y2="554.0" stroke="#16349C"/><line x1="1125.7" y1="508.5" x2="1125.7" y2="538.0" stroke="#F28C28"/><line x1="1128.5" y1="507.0" x2="1128.5" y2="515.6" stroke="#F28C28"/><line x1="1131.4" y1="498.6" x2="1131.4" y2="511.0" stroke="#F28C28"/><line x1="1134.3" y1="503.0" x2="1134.3" y2="511.0" stroke="#16349C"/><line x1="1137.1" y1="501.4" x2="1137.1" y2="511.0" stroke="#F28C28"/><line x1="1140.0" y1="500.0" x2="1140.0" y2="507.0" stroke="#F28C28"/><line x1="1142.9" y1="493.0" x2="1142.9" y2="504.0" stroke="#F28C28"/><line x1="1145.7" y1="490.0" x2="1145.7" y2="498.6" stroke="#F28C28"/><line x1="1148.6" y1="491.5" x2="1148.6" y2="507.0" stroke="#16349C"/><line x1="1151.5" y1="485.8" x2="1151.5" y2="507.0" stroke="#F28C28"/><line x1="1154.3" y1="485.8" x2="1154.3" y2="495.7" stroke="#F28C28"/><line x1="1157.2" y1="485.8" x2="1157.2" y2="500.0" stroke="#16349C"/><line x1="1160.1" y1="493.0" x2="1160.1" y2="498.6" stroke="#F28C28"/><line x1="1162.9" y1="485.8" x2="1162.9" y2="497.0" stroke="#F28C28"/><line x1="1165.8" y1="485.8" x2="1165.8" y2="493.0" stroke="#16349C"/><line x1="1168.7" y1="487.0" x2="1168.7" y2="493.0" stroke="#F28C28"/><line x1="1171.5" y1="478.7" x2="1171.5" y2="490.0" stroke="#F28C28"/><line x1="1174.4" y1="461.7" x2="1174.4" y2="484.4" stroke="#F28C28"/><line x1="1177.3" y1="453.0" x2="1177.3" y2="467.0" stroke="#F28C28"/><line x1="1180.1" y1="454.6" x2="1180.1" y2="470.0" stroke="#16349C"/><line x1="1183.0" y1="457.5" x2="1183.0" y2="464.5" stroke="#F28C28"/><line x1="1185.9" y1="443.0" x2="1185.9" y2="464.5" stroke="#16349C"/><line x1="1188.7" y1="457.0" x2="1188.7" y2="474.0" stroke="#F28C28"/><line x1="1191.6" y1="434.7" x2="1191.6" y2="464.5" stroke="#F28C28"/><line x1="1194.5" y1="423.4" x2="1194.5" y2="444.7" stroke="#F28C28"/><line x1="1197.4" y1="390.8" x2="1197.4" y2="433.0" stroke="#F28C28"/><line x1="1200.2" y1="409.0" x2="1200.2" y2="432.0" stroke="#F28C28"/><line x1="1203.1" y1="395.0" x2="1203.1" y2="422.0" stroke="#F28C28"/><line x1="1206.0" y1="375.0" x2="1206.0" y2="408.0" stroke="#F28C28"/><line x1="1208.8" y1="369.5" x2="1208.8" y2="406.4" stroke="#F28C28"/><line x1="1211.7" y1="352.5" x2="1211.7" y2="403.5" stroke="#16349C"/><line x1="1214.6" y1="371.0" x2="1214.6" y2="410.6" stroke="#16349C"/><line x1="1217.4" y1="372.0" x2="1217.4" y2="402.0" stroke="#F28C28"/><line x1="1220.3" y1="362.0" x2="1220.3" y2="382.0" stroke="#F28C28"/><line x1="1223.2" y1="321.0" x2="1223.2" y2="368.0" stroke="#F28C28"/><line x1="1226.0" y1="310.0" x2="1226.0" y2="342.6" stroke="#16349C"/><line x1="1228.9" y1="332.6" x2="1228.9" y2="359.6" stroke="#16349C"/><line x1="1231.8" y1="348.0" x2="1231.8" y2="389.0" stroke="#16349C"/><line x1="1234.6" y1="348.0" x2="1234.6" y2="376.6" stroke="#16349C"/><line x1="1237.5" y1="364.0" x2="1237.5" y2="407.0" stroke="#16349C"/><line x1="1240.4" y1="386.0" x2="1240.4" y2="419.8" stroke="#16349C"/><line x1="1243.2" y1="387.0" x2="1243.2" y2="421.7" stroke="#F28C28"/><line x1="1246.1" y1="386.0" x2="1246.1" y2="402.0" stroke="#F28C28"/><line x1="1249.0" y1="387.0" x2="1249.0" y2="407.8" stroke="#16349C"/><line x1="1251.8" y1="381.0" x2="1251.8" y2="404.0" stroke="#F28C28"/><line x1="1254.7" y1="370.0" x2="1254.7" y2="390.6" stroke="#F28C28"/><line x1="1257.6" y1="360.7" x2="1257.6" y2="375.6" stroke="#F28C28"/><line x1="1260.4" y1="343.5" x2="1260.4" y2="367.6" stroke="#F28C28"/><line x1="1263.3" y1="347.0" x2="1263.3" y2="364.0" stroke="#F28C28"/><line x1="1266.2" y1="336.6" x2="1266.2" y2="366.5" stroke="#16349C"/><line x1="1269.0" y1="327.5" x2="1269.0" y2="360.7" stroke="#F28C28"/><line x1="1271.9" y1="311.0" x2="1271.9" y2="337.8" stroke="#F28C28"/><line x1="1274.8" y1="303.4" x2="1274.8" y2="342.4" stroke="#16349C"/><line x1="1277.7" y1="316.0" x2="1277.7" y2="349.0" stroke="#16349C"/><line x1="1280.5" y1="327.5" x2="1280.5" y2="339.0" stroke="#F28C28"/><line x1="1283.4" y1="308.0" x2="1283.4" y2="332.0" stroke="#F28C28"/><line x1="1286.3" y1="312.6" x2="1286.3" y2="337.8" stroke="#16349C"/><line x1="1289.1" y1="318.0" x2="1289.1" y2="340.0" stroke="#16349C"/><line x1="1292.0" y1="294.0" x2="1292.0" y2="343.5" stroke="#F28C28"/><line x1="1294.9" y1="292.0" x2="1294.9" y2="332.0" stroke="#16349C"/><line x1="1297.7" y1="279.0" x2="1297.7" y2="328.6" stroke="#F28C28"/><line x1="1300.6" y1="279.0" x2="1300.6" y2="298.8" stroke="#16349C"/><line x1="1303.5" y1="289.6" x2="1303.5" y2="311.4" stroke="#16349C"/><line x1="1306.3" y1="294.0" x2="1306.3" y2="333.0" stroke="#16349C"/><line x1="1309.2" y1="305.7" x2="1309.2" y2="335.5" stroke="#F28C28"/><line x1="1312.1" y1="306.8" x2="1312.1" y2="315.0" stroke="#16349C"/><line x1="1314.9" y1="294.0" x2="1314.9" y2="318.0" stroke="#F28C28"/><line x1="1317.8" y1="297.7" x2="1317.8" y2="318.0" stroke="#16349C"/><line x1="1320.7" y1="306.8" x2="1320.7" y2="317.0" stroke="#16349C"/><line x1="1323.5" y1="308.0" x2="1323.5" y2="315.0" stroke="#F28C28"/><line x1="1326.4" y1="303.4" x2="1326.4" y2="326.0" stroke="#16349C"/><line x1="1329.3" y1="316.0" x2="1329.3" y2="326.0" stroke="#F28C28"/><line x1="1332.1" y1="308.0" x2="1332.1" y2="318.0" stroke="#F28C28"/><line x1="1335.0" y1="313.7" x2="1335.0" y2="325.0" stroke="#16349C"/><line x1="1337.9" y1="315.0" x2="1337.9" y2="325.0" stroke="#F28C28"/><line x1="1340.8" y1="308.0" x2="1340.8" y2="318.0" stroke="#F28C28"/><line x1="1343.6" y1="292.0" x2="1343.6" y2="311.4" stroke="#F28C28"/><line x1="1346.5" y1="290.8" x2="1346.5" y2="302.0" stroke="#16349C"/><line x1="1349.4" y1="289.6" x2="1349.4" y2="298.8" stroke="#F28C28"/><line x1="1352.2" y1="274.7" x2="1352.2" y2="296.5" stroke="#F28C28"/><line x1="1355.1" y1="277.0" x2="1355.1" y2="288.5" stroke="#F28C28"/><line x1="1358.0" y1="258.7" x2="1358.0" y2="279.0" stroke="#F28C28"/><line x1="1360.8" y1="247.0" x2="1360.8" y2="263.0" stroke="#F28C28"/><line x1="1363.7" y1="246.0" x2="1363.7" y2="262.0" stroke="#16349C"/><line x1="1366.6" y1="253.0" x2="1366.6" y2="271.0" stroke="#16349C"/><line x1="1369.4" y1="237.0" x2="1369.4" y2="266.7" stroke="#F28C28"/><line x1="1372.3" y1="211.0" x2="1372.3" y2="245.0" stroke="#F28C28"/><line x1="1375.2" y1="203.5" x2="1375.2" y2="222.0" stroke="#16349C"/><line x1="1378.0" y1="204.6" x2="1378.0" y2="226.0" stroke="#F28C28"/><line x1="1380.9" y1="177.0" x2="1380.9" y2="221.0" stroke="#F28C28"/><line x1="1383.8" y1="153.0" x2="1383.8" y2="181.0" stroke="#F28C28"/><line x1="1386.6" y1="174.0" x2="1386.6" y2="224.0" stroke="#16349C"/><line x1="1389.5" y1="190.0" x2="1389.5" y2="234.0" stroke="#F28C28"/><line x1="1392.4" y1="185.0" x2="1392.4" y2="214.0" stroke="#F28C28"/><line x1="1395.2" y1="194.7" x2="1395.2" y2="250.0" stroke="#16349C"/><line x1="1398.1" y1="232.0" x2="1398.1" y2="256.0" stroke="#F28C28"/><line x1="1401.0" y1="218.7" x2="1401.0" y2="239.5" stroke="#F28C28"/><line x1="1403.8" y1="212.0" x2="1403.8" y2="234.0" stroke="#F28C28"/><line x1="1406.7" y1="184.0" x2="1406.7" y2="213.0" stroke="#F28C28"/><line x1="1409.6" y1="186.0" x2="1409.6" y2="212.0" stroke="#16349C"/><line x1="1412.5" y1="184.0" x2="1412.5" y2="204.6" stroke="#F28C28"/><line x1="1415.3" y1="143.5" x2="1415.3" y2="192.5" stroke="#F28C28"/><line x1="1418.2" y1="102.0" x2="1418.2" y2="153.0" stroke="#F28C28"/></g>
<g><rect x="11.9" y="557.5" width="2" height="7.6" fill="#16349C"/><rect x="14.7" y="548.4" width="2" height="10.8" fill="#F28C28"/><rect x="17.6" y="549.1" width="2" height="8.8" fill="#F28C28"/><rect x="20.5" y="517.1" width="2" height="32.8" fill="#F28C28"/><rect x="23.3" y="474.9" width="2" height="47.2" fill="#F28C28"/><rect x="26.2" y="438.9" width="2" height="23.2" fill="#F28C28"/><rect x="29.1" y="436.0" width="2" height="19.8" fill="#F28C28"/><rect x="31.9" y="442.1" width="2" height="27.9" fill="#16349C"/><rect x="34.8" y="456.5" width="2" height="12.0" fill="#16349C"/><rect x="37.7" y="466.4" width="2" height="11.0" fill="#16349C"/><rect x="40.5" y="482.4" width="2" height="51.2" fill="#16349C"/><rect x="43.4" y="527.2" width="2" height="28.2" fill="#16349C"/><rect x="46.3" y="529.0" width="2" height="25.0" fill="#F28C28"/><rect x="49.2" y="535.8" width="2" height="22.0" fill="#16349C"/><rect x="52.0" y="542.6" width="2" height="20.8" fill="#F28C28"/><rect x="54.9" y="545.0" width="2" height="8.0" fill="#F28C28"/><rect x="57.8" y="543.9" width="2" height="7.2" fill="#F28C28"/><rect x="60.6" y="543.8" width="2" height="18.5" fill="#16349C"/><rect x="63.5" y="551.5" width="2" height="17.5" fill="#16349C"/><rect x="66.4" y="557.8" width="2" height="10.0" fill="#F28C28"/><rect x="69.2" y="549.9" width="2" height="22.9" fill="#16349C"/><rect x="72.1" y="568.4" width="2" height="11.2" fill="#16349C"/><rect x="75.0" y="567.1" width="2" height="8.8" fill="#F28C28"/><rect x="77.8" y="565.1" width="2" height="16.6" fill="#16349C"/><rect x="80.7" y="579.5" width="2" height="13.5" fill="#16349C"/><rect x="83.6" y="581.0" width="2" height="10.6" fill="#F28C28"/><rect x="86.4" y="575.2" width="2" height="17.4" fill="#16349C"/><rect x="89.3" y="575.9" width="2" height="15.2" fill="#F28C28"/><rect x="92.2" y="575.2" width="2" height="17.4" fill="#16349C"/><rect x="95.0" y="584.7" width="2" height="7.4" fill="#F28C28"/><rect x="97.9" y="578.5" width="2" height="12.0" fill="#F28C28"/><rect x="100.8" y="570.2" width="2" height="12.1" fill="#16349C"/><rect x="103.6" y="576.4" width="2" height="6.6" fill="#F28C28"/><rect x="106.5" y="580.4" width="2" height="22.8" fill="#16349C"/><rect x="109.4" y="611.2" width="2" height="46.0" fill="#16349C"/><rect x="112.2" y="662.2" width="2" height="19.8" fill="#16349C"/><rect x="115.1" y="650.0" width="2" height="28.8" fill="#F28C28"/><rect x="118.0" y="649.1" width="2" height="41.2" fill="#16349C"/><rect x="120.9" y="653.1" width="2" height="36.9" fill="#F28C28"/><rect x="123.7" y="652.4" width="2" height="15.3" fill="#F28C28"/><rect x="126.6" y="642.9" width="2" height="15.2" fill="#F28C28"/><rect x="129.5" y="623.6" width="2" height="25.2" fill="#F28C28"/><rect x="132.3" y="632.8" width="2" height="14.4" fill="#F28C28"/><rect x="135.2" y="629.3" width="2" height="10.4" fill="#16349C"/><rect x="138.1" y="620.0" width="2" height="16.0" fill="#F28C28"/><rect x="140.9" y="576.1" width="2" height="40.8" fill="#F28C28"/><rect x="143.8" y="572.5" width="2" height="22.5" fill="#16349C"/><rect x="146.7" y="582.4" width="2" height="11.2" fill="#16349C"/><rect x="149.5" y="585.6" width="2" height="12.8" fill="#F28C28"/><rect x="152.4" y="561.1" width="2" height="24.8" fill="#F28C28"/><rect x="155.3" y="560.1" width="2" height="8.8" fill="#16349C"/><rect x="158.1" y="554.5" width="2" height="20.0" fill="#F28C28"/><rect x="161.0" y="552.3" width="2" height="18.4" fill="#16349C"/><rect x="163.9" y="563.9" width="2" height="15.2" fill="#16349C"/><rect x="166.7" y="571.0" width="2" height="16.0" fill="#16349C"/><rect x="169.6" y="582.7" width="2" height="15.3" fill="#16349C"/><rect x="172.5" y="576.9" width="2" height="10.7" fill="#F28C28"/><rect x="175.3" y="566.9" width="2" height="15.2" fill="#F28C28"/><rect x="178.2" y="574.1" width="2" height="8.8" fill="#F28C28"/><rect x="181.1" y="565.0" width="2" height="18.9" fill="#16349C"/><rect x="183.9" y="572.0" width="2" height="18.0" fill="#F28C28"/><rect x="186.8" y="565.1" width="2" height="16.8" fill="#F28C28"/><rect x="189.7" y="584.0" width="2" height="24.0" fill="#16349C"/><rect x="192.6" y="586.4" width="2" height="35.2" fill="#16349C"/><rect x="195.4" y="624.8" width="2" height="22.4" fill="#16349C"/><rect x="198.3" y="644.0" width="2" height="48.0" fill="#16349C"/><rect x="201.2" y="684.1" width="2" height="45.9" fill="#16349C"/><rect x="204.0" y="698.0" width="2" height="27.0" fill="#F28C28"/><rect x="206.9" y="686.4" width="2" height="34.8" fill="#16349C"/><rect x="209.8" y="658.1" width="2" height="61.2" fill="#F28C28"/><rect x="212.6" y="657.5" width="2" height="20.0" fill="#F28C28"/><rect x="215.5" y="650.9" width="2" height="15.2" fill="#16349C"/><rect x="218.4" y="652.0" width="2" height="20.7" fill="#16349C"/><rect x="221.2" y="651.2" width="2" height="25.6" fill="#F28C28"/><rect x="224.1" y="645.9" width="2" height="15.2" fill="#F28C28"/><rect x="227.0" y="639.6" width="2" height="20.8" fill="#16349C"/><rect x="229.8" y="638.0" width="2" height="24.0" fill="#16349C"/><rect x="232.7" y="647.9" width="2" height="15.2" fill="#F28C28"/><rect x="235.6" y="621.7" width="2" height="29.3" fill="#F28C28"/><rect x="238.4" y="624.5" width="2" height="12.0" fill="#16349C"/><rect x="241.3" y="604.9" width="2" height="31.2" fill="#F28C28"/><rect x="244.2" y="587.2" width="2" height="19.8" fill="#F28C28"/><rect x="247.0" y="586.1" width="2" height="16.8" fill="#F28C28"/><rect x="249.9" y="572.3" width="2" height="18.4" fill="#F28C28"/><rect x="252.8" y="565.2" width="2" height="17.6" fill="#F28C28"/><rect x="255.6" y="567.8" width="2" height="14.4" fill="#16349C"/><rect x="258.5" y="577.0" width="2" height="15.6" fill="#16349C"/><rect x="261.4" y="588.3" width="2" height="26.4" fill="#16349C"/><rect x="264.2" y="607.1" width="2" height="28.4" fill="#16349C"/><rect x="267.1" y="620.8" width="2" height="16.2" fill="#F28C28"/><rect x="270.0" y="622.2" width="2" height="14.0" fill="#16349C"/><rect x="272.9" y="624.7" width="2" height="15.3" fill="#F28C28"/><rect x="275.7" y="627.2" width="2" height="9.6" fill="#16349C"/><rect x="278.6" y="638.8" width="2" height="26.0" fill="#16349C"/><rect x="281.5" y="641.8" width="2" height="30.4" fill="#F28C28"/><rect x="284.3" y="640.0" width="2" height="10.8" fill="#16349C"/><rect x="287.2" y="651.7" width="2" height="29.3" fill="#16349C"/><rect x="290.1" y="664.3" width="2" height="18.1" fill="#16349C"/><rect x="292.9" y="669.5" width="2" height="27.0" fill="#16349C"/><rect x="295.8" y="683.8" width="2" height="14.4" fill="#F28C28"/><rect x="298.7" y="672.1" width="2" height="16.8" fill="#F28C28"/><rect x="301.5" y="649.1" width="2" height="24.8" fill="#F28C28"/><rect x="304.4" y="649.3" width="2" height="15.3" fill="#16349C"/><rect x="307.3" y="635.9" width="2" height="19.7" fill="#F28C28"/><rect x="310.1" y="619.2" width="2" height="17.6" fill="#F28C28"/><rect x="313.0" y="606.1" width="2" height="19.4" fill="#F28C28"/><rect x="315.9" y="605.0" width="2" height="10.6" fill="#16349C"/><rect x="318.7" y="602.8" width="2" height="14.4" fill="#F28C28"/><rect x="321.6" y="612.4" width="2" height="27.2" fill="#16349C"/><rect x="324.5" y="614.7" width="2" height="21.6" fill="#F28C28"/><rect x="327.3" y="604.5" width="2" height="20.0" fill="#F28C28"/><rect x="330.2" y="590.7" width="2" height="16.2" fill="#F28C28"/><rect x="333.1" y="583.9" width="2" height="15.2" fill="#F28C28"/><rect x="335.9" y="569.6" width="2" height="20.8" fill="#F28C28"/><rect x="338.8" y="564.9" width="2" height="15.2" fill="#F28C28"/><rect x="341.7" y="541.3" width="2" height="26.4" fill="#F28C28"/><rect x="344.6" y="542.6" width="2" height="12.8" fill="#F28C28"/><rect x="347.4" y="548.8" width="2" height="22.2" fill="#16349C"/><rect x="350.3" y="554.4" width="2" height="19.2" fill="#F28C28"/><rect x="353.2" y="541.6" width="2" height="16.3" fill="#F28C28"/><rect x="356.0" y="543.0" width="2" height="12.6" fill="#16349C"/><rect x="358.9" y="553.2" width="2" height="9.6" fill="#16349C"/><rect x="361.8" y="563.8" width="2" height="30.4" fill="#16349C"/><rect x="364.6" y="581.5" width="2" height="44.0" fill="#16349C"/><rect x="367.5" y="607.7" width="2" height="21.6" fill="#16349C"/><rect x="370.4" y="611.5" width="2" height="20.0" fill="#F28C28"/><rect x="373.2" y="605.7" width="2" height="16.2" fill="#F28C28"/><rect x="376.1" y="598.8" width="2" height="14.2" fill="#F28C28"/><rect x="379.0" y="589.9" width="2" height="9.8" fill="#F28C28"/><rect x="381.8" y="580.0" width="2" height="16.2" fill="#16349C"/><rect x="384.7" y="574.1" width="2" height="24.8" fill="#F28C28"/><rect x="387.6" y="573.7" width="2" height="21.6" fill="#16349C"/><rect x="390.4" y="588.8" width="2" height="16.2" fill="#16349C"/><rect x="393.3" y="581.1" width="2" height="16.5" fill="#F28C28"/><rect x="396.2" y="580.1" width="2" height="8.8" fill="#F28C28"/><rect x="399.0" y="582.1" width="2" height="13.2" fill="#16349C"/><rect x="401.9" y="566.6" width="2" height="23.4" fill="#F28C28"/><rect x="404.8" y="557.2" width="2" height="20.7" fill="#F28C28"/><rect x="407.7" y="550.9" width="2" height="15.2" fill="#F28C28"/><rect x="410.5" y="550.4" width="2" height="19.2" fill="#16349C"/><rect x="413.4" y="554.1" width="2" height="8.8" fill="#F28C28"/><rect x="416.3" y="555.1" width="2" height="4.3" fill="#16349C"/><rect x="419.1" y="549.5" width="2" height="12.0" fill="#F28C28"/><rect x="422.0" y="544.2" width="2" height="17.6" fill="#16349C"/><rect x="424.9" y="547.6" width="2" height="20.8" fill="#16349C"/><rect x="427.7" y="563.5" width="2" height="20.0" fill="#16349C"/><rect x="430.6" y="558.7" width="2" height="13.4" fill="#F28C28"/><rect x="433.5" y="562.6" width="2" height="29.2" fill="#16349C"/><rect x="436.3" y="571.3" width="2" height="13.9" fill="#F28C28"/><rect x="439.2" y="564.3" width="2" height="10.4" fill="#F28C28"/><rect x="442.1" y="552.5" width="2" height="16.4" fill="#F28C28"/><rect x="444.9" y="543.4" width="2" height="11.2" fill="#F28C28"/><rect x="447.8" y="549.3" width="2" height="10.4" fill="#16349C"/><rect x="450.7" y="560.2" width="2" height="25.6" fill="#16349C"/><rect x="453.5" y="573.2" width="2" height="17.6" fill="#16349C"/><rect x="456.4" y="583.6" width="2" height="12.8" fill="#16349C"/><rect x="459.3" y="593.5" width="2" height="16.4" fill="#16349C"/><rect x="462.1" y="598.8" width="2" height="16.2" fill="#16349C"/><rect x="465.0" y="589.6" width="2" height="20.8" fill="#F28C28"/><rect x="467.9" y="563.9" width="2" height="23.2" fill="#F28C28"/><rect x="470.7" y="544.2" width="2" height="17.6" fill="#F28C28"/><rect x="473.6" y="550.9" width="2" height="15.2" fill="#16349C"/><rect x="476.5" y="518.0" width="2" height="34.6" fill="#F28C28"/><rect x="479.4" y="509.6" width="2" height="28.8" fill="#F28C28"/><rect x="482.2" y="489.6" width="2" height="33.2" fill="#F28C28"/><rect x="485.1" y="488.6" width="2" height="41.4" fill="#16349C"/><rect x="488.0" y="516.5" width="2" height="28.0" fill="#16349C"/><rect x="490.8" y="495.4" width="2" height="35.0" fill="#F28C28"/><rect x="493.7" y="526.1" width="2" height="18.9" fill="#16349C"/><rect x="496.6" y="519.7" width="2" height="13.6" fill="#F28C28"/><rect x="499.4" y="507.5" width="2" height="36.0" fill="#16349C"/><rect x="502.3" y="522.9" width="2" height="15.2" fill="#F28C28"/><rect x="505.2" y="533.6" width="2" height="12.8" fill="#16349C"/><rect x="508.0" y="532.3" width="2" height="15.7" fill="#16349C"/><rect x="510.9" y="524.8" width="2" height="25.2" fill="#F28C28"/><rect x="513.8" y="514.0" width="2" height="20.4" fill="#F28C28"/><rect x="516.6" y="477.8" width="2" height="38.4" fill="#F28C28"/><rect x="519.5" y="480.0" width="2" height="19.8" fill="#F28C28"/><rect x="522.4" y="479.8" width="2" height="41.5" fill="#16349C"/><rect x="525.2" y="511.8" width="2" height="38.4" fill="#16349C"/><rect x="528.1" y="510.0" width="2" height="31.7" fill="#F28C28"/><rect x="531.0" y="488.2" width="2" height="22.0" fill="#F28C28"/><rect x="533.8" y="494.6" width="2" height="7.4" fill="#F28C28"/><rect x="536.7" y="476.2" width="2" height="25.3" fill="#16349C"/><rect x="539.6" y="488.5" width="2" height="12.0" fill="#F28C28"/><rect x="542.4" y="488.1" width="2" height="32.8" fill="#16349C"/><rect x="545.3" y="410.5" width="2" height="106.6" fill="#F28C28"/><rect x="548.2" y="412.4" width="2" height="19.2" fill="#F28C28"/><rect x="551.1" y="415.7" width="2" height="24.3" fill="#16349C"/><rect x="553.9" y="411.7" width="2" height="29.3" fill="#F28C28"/><rect x="556.8" y="396.9" width="2" height="23.2" fill="#F28C28"/><rect x="559.7" y="399.7" width="2" height="21.6" fill="#16349C"/><rect x="562.5" y="416.4" width="2" height="52.6" fill="#16349C"/><rect x="565.4" y="450.4" width="2" height="35.2" fill="#F28C28"/><rect x="568.3" y="444.2" width="2" height="41.6" fill="#16349C"/><rect x="571.1" y="428.1" width="2" height="20.7" fill="#F28C28"/><rect x="574.0" y="426.9" width="2" height="23.2" fill="#16349C"/><rect x="576.9" y="422.5" width="2" height="19.7" fill="#F28C28"/><rect x="579.7" y="429.9" width="2" height="15.2" fill="#F28C28"/><rect x="582.6" y="425.3" width="2" height="18.4" fill="#F28C28"/><rect x="585.5" y="420.0" width="2" height="17.1" fill="#16349C"/><rect x="588.3" y="433.4" width="2" height="30.7" fill="#16349C"/><rect x="591.2" y="451.6" width="2" height="44.8" fill="#16349C"/><rect x="594.1" y="474.4" width="2" height="34.6" fill="#F28C28"/><rect x="596.9" y="460.9" width="2" height="31.6" fill="#16349C"/><rect x="599.8" y="484.2" width="2" height="22.0" fill="#16349C"/><rect x="602.7" y="459.0" width="2" height="48.0" fill="#F28C28"/><rect x="605.5" y="452.9" width="2" height="12.0" fill="#F28C28"/><rect x="608.4" y="440.0" width="2" height="17.4" fill="#F28C28"/><rect x="611.3" y="434.5" width="2" height="28.3" fill="#16349C"/><rect x="614.1" y="448.7" width="2" height="13.4" fill="#F28C28"/><rect x="617.0" y="425.1" width="2" height="29.3" fill="#F28C28"/><rect x="619.9" y="431.2" width="2" height="25.3" fill="#16349C"/><rect x="622.8" y="441.2" width="2" height="17.6" fill="#F28C28"/><rect x="625.6" y="437.5" width="2" height="12.0" fill="#16349C"/><rect x="628.5" y="443.1" width="2" height="8.8" fill="#F28C28"/><rect x="631.4" y="440.2" width="2" height="9.6" fill="#F28C28"/><rect x="634.2" y="436.2" width="2" height="9.6" fill="#F28C28"/><rect x="637.1" y="430.9" width="2" height="10.7" fill="#16349C"/><rect x="640.0" y="437.1" width="2" height="8.8" fill="#16349C"/><rect x="642.8" y="412.4" width="2" height="27.2" fill="#F28C28"/><rect x="645.7" y="422.4" width="2" height="29.4" fill="#16349C"/><rect x="648.6" y="447.7" width="2" height="25.1" fill="#16349C"/><rect x="651.4" y="453.7" width="2" height="18.6" fill="#16349C"/><rect x="654.3" y="455.2" width="2" height="9.9" fill="#F28C28"/><rect x="657.2" y="449.8" width="2" height="8.7" fill="#F28C28"/><rect x="660.0" y="452.4" width="2" height="7.7" fill="#F28C28"/><rect x="662.9" y="453.1" width="2" height="14.9" fill="#16349C"/><rect x="665.8" y="452.6" width="2" height="9.8" fill="#F28C28"/><rect x="668.6" y="438.2" width="2" height="14.1" fill="#F28C28"/><rect x="671.5" y="437.4" width="2" height="11.2" fill="#F28C28"/><rect x="674.4" y="424.1" width="2" height="16.8" fill="#F28C28"/><rect x="677.2" y="430.7" width="2" height="17.7" fill="#16349C"/><rect x="680.1" y="439.8" width="2" height="30.4" fill="#16349C"/><rect x="683.0" y="444.6" width="2" height="29.2" fill="#16349C"/><rect x="685.8" y="456.0" width="2" height="16.0" fill="#F28C28"/><rect x="688.7" y="448.9" width="2" height="11.4" fill="#F28C28"/><rect x="691.6" y="455.6" width="2" height="12.5" fill="#16349C"/><rect x="694.5" y="461.1" width="2" height="8.8" fill="#F28C28"/><rect x="697.3" y="462.6" width="2" height="7.4" fill="#F28C28"/><rect x="700.2" y="462.5" width="2" height="20.0" fill="#16349C"/><rect x="703.1" y="470.1" width="2" height="18.5" fill="#F28C28"/><rect x="705.9" y="470.2" width="2" height="17.6" fill="#16349C"/><rect x="708.8" y="470.2" width="2" height="17.6" fill="#F28C28"/><rect x="711.7" y="469.6" width="2" height="12.8" fill="#F28C28"/><rect x="714.5" y="466.0" width="2" height="9.0" fill="#16349C"/><rect x="717.4" y="472.6" width="2" height="24.1" fill="#16349C"/><rect x="720.3" y="495.2" width="2" height="53.1" fill="#16349C"/><rect x="723.1" y="535.5" width="2" height="9.5" fill="#16349C"/><rect x="726.0" y="541.5" width="2" height="55.6" fill="#16349C"/><rect x="728.9" y="581.2" width="2" height="17.6" fill="#16349C"/><rect x="731.7" y="570.1" width="2" height="19.0" fill="#F28C28"/><rect x="734.6" y="560.9" width="2" height="23.0" fill="#F28C28"/><rect x="737.5" y="523.6" width="2" height="53.2" fill="#F28C28"/><rect x="740.3" y="520.0" width="2" height="28.8" fill="#F28C28"/><rect x="743.2" y="538.2" width="2" height="17.6" fill="#F28C28"/><rect x="746.1" y="507.9" width="2" height="27.7" fill="#F28C28"/><rect x="748.9" y="452.5" width="2" height="51.8" fill="#F28C28"/><rect x="751.8" y="453.8" width="2" height="34.2" fill="#16349C"/><rect x="754.7" y="468.3" width="2" height="26.4" fill="#16349C"/><rect x="757.5" y="479.6" width="2" height="16.4" fill="#F28C28"/><rect x="760.4" y="467.7" width="2" height="21.4" fill="#F28C28"/><rect x="763.3" y="470.4" width="2" height="19.0" fill="#16349C"/><rect x="766.2" y="486.0" width="2" height="31.8" fill="#16349C"/><rect x="769.0" y="489.7" width="2" height="21.6" fill="#F28C28"/><rect x="771.9" y="494.1" width="2" height="8.8" fill="#16349C"/><rect x="774.8" y="487.1" width="2" height="25.2" fill="#F28C28"/><rect x="777.6" y="478.0" width="2" height="23.8" fill="#F28C28"/><rect x="780.5" y="480.6" width="2" height="12.8" fill="#16349C"/><rect x="783.4" y="496.9" width="2" height="40.5" fill="#16349C"/><rect x="786.2" y="526.7" width="2" height="39.4" fill="#F28C28"/><rect x="789.1" y="524.1" width="2" height="33.1" fill="#16349C"/><rect x="792.0" y="535.5" width="2" height="20.0" fill="#16349C"/><rect x="794.8" y="552.5" width="2" height="44.4" fill="#16349C"/><rect x="797.7" y="549.4" width="2" height="19.2" fill="#16349C"/><rect x="800.6" y="520.2" width="2" height="25.4" fill="#F28C28"/><rect x="803.4" y="534.5" width="2" height="52.0" fill="#16349C"/><rect x="806.3" y="569.3" width="2" height="14.2" fill="#F28C28"/><rect x="809.2" y="551.5" width="2" height="22.6" fill="#F28C28"/><rect x="812.0" y="544.9" width="2" height="33.0" fill="#16349C"/><rect x="814.9" y="546.2" width="2" height="17.6" fill="#16349C"/><rect x="817.8" y="553.4" width="2" height="11.2" fill="#16349C"/><rect x="820.6" y="567.9" width="2" height="39.2" fill="#16349C"/><rect x="823.5" y="592.9" width="2" height="49.4" fill="#16349C"/><rect x="826.4" y="597.1" width="2" height="36.9" fill="#F28C28"/><rect x="829.2" y="593.0" width="2" height="24.0" fill="#F28C28"/><rect x="832.1" y="544.4" width="2" height="43.2" fill="#F28C28"/><rect x="835.0" y="569.3" width="2" height="12.6" fill="#F28C28"/><rect x="837.9" y="536.8" width="2" height="30.4" fill="#F28C28"/><rect x="840.7" y="536.8" width="2" height="30.4" fill="#16349C"/><rect x="843.6" y="512.0" width="2" height="35.5" fill="#F28C28"/><rect x="846.5" y="513.0" width="2" height="17.8" fill="#16349C"/><rect x="849.3" y="525.9" width="2" height="20.2" fill="#16349C"/><rect x="852.2" y="516.2" width="2" height="17.6" fill="#F28C28"/><rect x="855.1" y="513.5" width="2" height="11.7" fill="#F28C28"/><rect x="857.9" y="516.8" width="2" height="10.0" fill="#16349C"/><rect x="860.8" y="524.9" width="2" height="7.2" fill="#16349C"/><rect x="863.7" y="514.6" width="2" height="12.8" fill="#F28C28"/><rect x="866.5" y="508.9" width="2" height="15.6" fill="#16349C"/><rect x="869.4" y="518.1" width="2" height="16.8" fill="#16349C"/><rect x="872.3" y="511.9" width="2" height="18.8" fill="#F28C28"/><rect x="875.1" y="516.8" width="2" height="16.8" fill="#16349C"/><rect x="878.0" y="531.9" width="2" height="23.2" fill="#16349C"/><rect x="880.9" y="543.2" width="2" height="17.6" fill="#16349C"/><rect x="883.7" y="546.7" width="2" height="6.3" fill="#F28C28"/><rect x="886.6" y="537.3" width="2" height="12.6" fill="#F28C28"/><rect x="889.5" y="544.0" width="2" height="24.0" fill="#16349C"/><rect x="892.3" y="545.6" width="2" height="19.4" fill="#F28C28"/><rect x="895.2" y="556.5" width="2" height="12.0" fill="#16349C"/><rect x="898.1" y="559.0" width="2" height="8.0" fill="#16349C"/><rect x="900.9" y="568.8" width="2" height="46.4" fill="#16349C"/><rect x="903.8" y="596.4" width="2" height="16.6" fill="#16349C"/><rect x="906.7" y="596.1" width="2" height="12.3" fill="#16349C"/><rect x="909.6" y="575.8" width="2" height="34.2" fill="#F28C28"/><rect x="912.4" y="576.5" width="2" height="13.5" fill="#16349C"/><rect x="915.3" y="568.6" width="2" height="12.8" fill="#F28C28"/><rect x="918.2" y="556.6" width="2" height="12.8" fill="#F28C28"/><rect x="921.0" y="560.0" width="2" height="15.7" fill="#16349C"/><rect x="923.9" y="564.3" width="2" height="10.4" fill="#F28C28"/><rect x="926.8" y="568.2" width="2" height="9.6" fill="#16349C"/><rect x="929.6" y="569.0" width="2" height="9.0" fill="#F28C28"/><rect x="932.5" y="564.3" width="2" height="10.4" fill="#F28C28"/><rect x="935.4" y="561.5" width="2" height="7.5" fill="#F28C28"/><rect x="938.2" y="562.8" width="2" height="6.4" fill="#F28C28"/><rect x="941.1" y="561.4" width="2" height="6.2" fill="#F28C28"/><rect x="944.0" y="547.9" width="2" height="14.8" fill="#F28C28"/><rect x="946.8" y="535.9" width="2" height="23.2" fill="#F28C28"/><rect x="949.7" y="535.1" width="2" height="16.8" fill="#16349C"/><rect x="952.6" y="550.2" width="2" height="11.4" fill="#16349C"/><rect x="955.4" y="545.0" width="2" height="11.6" fill="#16349C"/><rect x="958.3" y="548.4" width="2" height="7.3" fill="#F28C28"/><rect x="961.2" y="547.3" width="2" height="10.4" fill="#16349C"/><rect x="964.0" y="547.1" width="2" height="8.5" fill="#F28C28"/><rect x="966.9" y="544.8" width="2" height="10.5" fill="#16349C"/><rect x="969.8" y="551.0" width="2" height="9.0" fill="#16349C"/><rect x="972.6" y="551.9" width="2" height="4.2" fill="#F28C28"/><rect x="975.5" y="553.5" width="2" height="6.3" fill="#16349C"/><rect x="978.4" y="554.7" width="2" height="5.3" fill="#F28C28"/><rect x="981.2" y="555.8" width="2" height="14.4" fill="#16349C"/><rect x="984.1" y="558.3" width="2" height="13.7" fill="#F28C28"/><rect x="987.0" y="552.6" width="2" height="9.3" fill="#F28C28"/><rect x="989.9" y="546.0" width="2" height="9.4" fill="#F28C28"/><rect x="992.7" y="525.7" width="2" height="25.1" fill="#F28C28"/><rect x="995.6" y="484.1" width="2" height="40.8" fill="#F28C28"/><rect x="998.5" y="483.0" width="2" height="18.0" fill="#16349C"/><rect x="1001.3" y="485.1" width="2" height="16.8" fill="#16349C"/><rect x="1004.2" y="479.0" width="2" height="22.5" fill="#F28C28"/><rect x="1007.1" y="481.6" width="2" height="23.4" fill="#F28C28"/><rect x="1009.9" y="485.2" width="2" height="18.0" fill="#16349C"/><rect x="1012.8" y="490.4" width="2" height="15.6" fill="#16349C"/><rect x="1015.7" y="491.9" width="2" height="15.6" fill="#16349C"/><rect x="1018.5" y="503.1" width="2" height="12.3" fill="#16349C"/><rect x="1021.4" y="497.9" width="2" height="15.0" fill="#F28C28"/><rect x="1024.3" y="501.0" width="2" height="15.7" fill="#16349C"/><rect x="1027.1" y="499.0" width="2" height="10.5" fill="#F28C28"/><rect x="1030.0" y="476.9" width="2" height="23.2" fill="#F28C28"/><rect x="1032.9" y="462.7" width="2" height="13.6" fill="#F28C28"/><rect x="1035.7" y="463.6" width="2" height="31.4" fill="#16349C"/><rect x="1038.6" y="483.4" width="2" height="11.2" fill="#F28C28"/><rect x="1041.5" y="479.2" width="2" height="9.6" fill="#F28C28"/><rect x="1044.3" y="473.8" width="2" height="8.2" fill="#F28C28"/><rect x="1047.2" y="462.0" width="2" height="18.9" fill="#F28C28"/><rect x="1050.1" y="460.7" width="2" height="8.2" fill="#16349C"/><rect x="1053.0" y="461.4" width="2" height="13.6" fill="#16349C"/><rect x="1055.8" y="474.0" width="2" height="20.0" fill="#16349C"/><rect x="1058.7" y="490.3" width="2" height="13.6" fill="#F28C28"/><rect x="1061.6" y="486.1" width="2" height="13.6" fill="#F28C28"/><rect x="1064.4" y="483.0" width="2" height="11.3" fill="#F28C28"/><rect x="1067.3" y="478.6" width="2" height="12.8" fill="#16349C"/><rect x="1070.2" y="479.8" width="2" height="9.0" fill="#F28C28"/><rect x="1073.0" y="484.7" width="2" height="37.6" fill="#16349C"/><rect x="1075.9" y="502.3" width="2" height="18.2" fill="#F28C28"/><rect x="1078.8" y="498.3" width="2" height="10.4" fill="#F28C28"/><rect x="1081.6" y="494.1" width="2" height="8.8" fill="#F28C28"/><rect x="1084.5" y="484.8" width="2" height="14.7" fill="#F28C28"/><rect x="1087.4" y="477.7" width="2" height="13.6" fill="#F28C28"/><rect x="1090.2" y="477.1" width="2" height="8.8" fill="#16349C"/><rect x="1093.1" y="483.3" width="2" height="13.6" fill="#16349C"/><rect x="1096.0" y="492.4" width="2" height="7.6" fill="#F28C28"/><rect x="1098.8" y="497.4" width="2" height="13.7" fill="#16349C"/><rect x="1101.7" y="498.1" width="2" height="9.2" fill="#F28C28"/><rect x="1104.6" y="492.8" width="2" height="10.0" fill="#F28C28"/><rect x="1107.4" y="493.4" width="2" height="15.6" fill="#16349C"/><rect x="1110.3" y="498.9" width="2" height="14.9" fill="#16349C"/><rect x="1113.2" y="504.0" width="2" height="8.0" fill="#F28C28"/><rect x="1116.0" y="501.4" width="2" height="11.2" fill="#16349C"/><rect x="1118.9" y="509.4" width="2" height="19.2" fill="#16349C"/><rect x="1121.8" y="517.8" width="2" height="20.2" fill="#16349C"/><rect x="1124.7" y="511.4" width="2" height="23.6" fill="#F28C28"/><rect x="1127.5" y="507.9" width="2" height="6.9" fill="#F28C28"/><rect x="1130.4" y="499.8" width="2" height="9.9" fill="#F28C28"/><rect x="1133.3" y="503.8" width="2" height="6.4" fill="#16349C"/><rect x="1136.1" y="502.4" width="2" height="7.7" fill="#F28C28"/><rect x="1139.0" y="500.7" width="2" height="5.6" fill="#F28C28"/><rect x="1141.9" y="494.1" width="2" height="8.8" fill="#F28C28"/><rect x="1144.7" y="490.9" width="2" height="6.9" fill="#F28C28"/><rect x="1147.6" y="493.1" width="2" height="12.4" fill="#16349C"/><rect x="1150.5" y="487.9" width="2" height="17.0" fill="#F28C28"/><rect x="1153.3" y="486.8" width="2" height="7.9" fill="#F28C28"/><rect x="1156.2" y="487.2" width="2" height="11.4" fill="#16349C"/><rect x="1159.1" y="493.6" width="2" height="4.5" fill="#F28C28"/><rect x="1161.9" y="486.9" width="2" height="9.0" fill="#F28C28"/><rect x="1164.8" y="486.5" width="2" height="5.8" fill="#16349C"/><rect x="1167.7" y="487.6" width="2" height="4.8" fill="#F28C28"/><rect x="1170.5" y="479.8" width="2" height="9.0" fill="#F28C28"/><rect x="1173.4" y="464.0" width="2" height="18.2" fill="#F28C28"/><rect x="1176.3" y="454.4" width="2" height="11.2" fill="#F28C28"/><rect x="1179.1" y="456.1" width="2" height="12.3" fill="#16349C"/><rect x="1182.0" y="458.2" width="2" height="5.6" fill="#F28C28"/><rect x="1184.9" y="458.0" width="2" height="5.9" fill="#16349C"/><rect x="1187.7" y="458.1" width="2" height="9.9" fill="#F28C28"/><rect x="1190.6" y="437.7" width="2" height="23.8" fill="#F28C28"/><rect x="1193.5" y="425.5" width="2" height="17.0" fill="#F28C28"/><rect x="1196.4" y="408.0" width="2" height="22.5" fill="#F28C28"/><rect x="1199.2" y="411.3" width="2" height="18.4" fill="#F28C28"/><rect x="1202.1" y="397.7" width="2" height="21.6" fill="#F28C28"/><rect x="1205.0" y="378.3" width="2" height="26.4" fill="#F28C28"/><rect x="1207.8" y="373.2" width="2" height="29.5" fill="#F28C28"/><rect x="1210.7" y="371.0" width="2" height="29.2" fill="#16349C"/><rect x="1213.6" y="375.0" width="2" height="31.7" fill="#16349C"/><rect x="1216.4" y="375.0" width="2" height="24.0" fill="#F28C28"/><rect x="1219.3" y="364.0" width="2" height="16.0" fill="#F28C28"/><rect x="1222.2" y="325.7" width="2" height="37.6" fill="#F28C28"/><rect x="1225.0" y="324.0" width="2" height="16.7" fill="#16349C"/><rect x="1227.9" y="335.3" width="2" height="21.6" fill="#16349C"/><rect x="1230.8" y="350.0" width="2" height="18.0" fill="#16349C"/><rect x="1233.6" y="350.9" width="2" height="22.9" fill="#16349C"/><rect x="1236.5" y="368.3" width="2" height="34.4" fill="#16349C"/><rect x="1239.4" y="389.4" width="2" height="27.0" fill="#16349C"/><rect x="1242.2" y="390.5" width="2" height="27.8" fill="#F28C28"/><rect x="1245.1" y="387.6" width="2" height="12.8" fill="#F28C28"/><rect x="1248.0" y="389.1" width="2" height="16.6" fill="#16349C"/><rect x="1250.8" y="383.3" width="2" height="18.4" fill="#F28C28"/><rect x="1253.7" y="372.1" width="2" height="16.5" fill="#F28C28"/><rect x="1256.6" y="362.2" width="2" height="11.9" fill="#F28C28"/><rect x="1259.4" y="345.9" width="2" height="19.3" fill="#F28C28"/><rect x="1262.3" y="348.7" width="2" height="13.6" fill="#F28C28"/><rect x="1265.2" y="339.6" width="2" height="23.9" fill="#16349C"/><rect x="1268.0" y="330.8" width="2" height="26.6" fill="#F28C28"/><rect x="1270.9" y="313.7" width="2" height="21.4" fill="#F28C28"/><rect x="1273.8" y="320.6" width="2" height="19.6" fill="#16349C"/><rect x="1276.7" y="319.3" width="2" height="26.4" fill="#16349C"/><rect x="1279.5" y="328.6" width="2" height="9.2" fill="#F28C28"/><rect x="1282.4" y="310.4" width="2" height="19.2" fill="#F28C28"/><rect x="1285.3" y="315.1" width="2" height="20.2" fill="#16349C"/><rect x="1288.1" y="320.2" width="2" height="17.6" fill="#16349C"/><rect x="1291.0" y="298.9" width="2" height="39.6" fill="#F28C28"/><rect x="1293.9" y="296.0" width="2" height="32.0" fill="#16349C"/><rect x="1296.7" y="284.0" width="2" height="39.7" fill="#F28C28"/><rect x="1299.6" y="281.0" width="2" height="15.8" fill="#16349C"/><rect x="1302.5" y="291.8" width="2" height="17.4" fill="#16349C"/><rect x="1305.3" y="297.9" width="2" height="31.2" fill="#16349C"/><rect x="1308.2" y="308.7" width="2" height="23.8" fill="#F28C28"/><rect x="1311.1" y="307.6" width="2" height="6.6" fill="#16349C"/><rect x="1313.9" y="296.4" width="2" height="19.2" fill="#F28C28"/><rect x="1316.8" y="299.7" width="2" height="16.2" fill="#16349C"/><rect x="1319.7" y="307.8" width="2" height="8.2" fill="#16349C"/><rect x="1322.5" y="308.7" width="2" height="5.6" fill="#F28C28"/><rect x="1325.4" y="305.7" width="2" height="18.1" fill="#16349C"/><rect x="1328.3" y="317.0" width="2" height="8.0" fill="#F28C28"/><rect x="1331.1" y="309.0" width="2" height="8.0" fill="#F28C28"/><rect x="1334.0" y="314.8" width="2" height="9.0" fill="#16349C"/><rect x="1336.9" y="316.0" width="2" height="8.0" fill="#F28C28"/><rect x="1339.8" y="309.0" width="2" height="8.0" fill="#F28C28"/><rect x="1342.6" y="293.9" width="2" height="15.5" fill="#F28C28"/><rect x="1345.5" y="291.9" width="2" height="9.0" fill="#16349C"/><rect x="1348.4" y="290.5" width="2" height="7.4" fill="#F28C28"/><rect x="1351.2" y="276.9" width="2" height="17.4" fill="#F28C28"/><rect x="1354.1" y="278.1" width="2" height="9.2" fill="#F28C28"/><rect x="1357.0" y="260.7" width="2" height="16.2" fill="#F28C28"/><rect x="1359.8" y="248.6" width="2" height="12.8" fill="#F28C28"/><rect x="1362.7" y="247.6" width="2" height="12.8" fill="#16349C"/><rect x="1365.6" y="254.8" width="2" height="14.4" fill="#16349C"/><rect x="1368.4" y="240.0" width="2" height="23.8" fill="#F28C28"/><rect x="1371.3" y="214.4" width="2" height="27.2" fill="#F28C28"/><rect x="1374.2" y="205.3" width="2" height="14.8" fill="#16349C"/><rect x="1377.0" y="206.7" width="2" height="17.1" fill="#F28C28"/><rect x="1379.9" y="181.4" width="2" height="35.2" fill="#F28C28"/><rect x="1382.8" y="174.0" width="2" height="6.3" fill="#F28C28"/><rect x="1385.6" y="179.0" width="2" height="40.0" fill="#16349C"/><rect x="1388.5" y="193.0" width="2" height="27.0" fill="#F28C28"/><rect x="1391.4" y="187.9" width="2" height="23.2" fill="#F28C28"/><rect x="1394.2" y="200.2" width="2" height="44.2" fill="#16349C"/><rect x="1397.1" y="233.8" width="2" height="16.2" fill="#F28C28"/><rect x="1400.0" y="220.8" width="2" height="16.6" fill="#F28C28"/><rect x="1402.8" y="214.2" width="2" height="17.6" fill="#F28C28"/><rect x="1405.7" y="186.9" width="2" height="23.2" fill="#F28C28"/><rect x="1408.6" y="188.6" width="2" height="20.8" fill="#16349C"/><rect x="1411.5" y="186.1" width="2" height="16.5" fill="#F28C28"/><rect x="1414.3" y="148.4" width="2" height="39.2" fill="#F28C28"/><rect x="1417.2" y="114.0" width="2" height="35.1" fill="#F28C28"/></g>
</g>
<text x="1422.0" y="56.7" font-size="13.7" fill="#131722" textLength="70.7" lengthAdjust="spacingAndGlyphs">(1.233,25)</text>
<text x="1422.0" y="129.9" font-size="13.7" fill="#131722" textLength="70.7" lengthAdjust="spacingAndGlyphs">(1.107,27)</text>
<text x="1422.0" y="193.3" font-size="13.7" fill="#131722" textLength="70.7" lengthAdjust="spacingAndGlyphs">(1.008,54)</text>
<text x="1436.0" y="249.4" font-size="13.7" fill="#131722" textLength="56.7" lengthAdjust="spacingAndGlyphs">(928,57)</text>
<text x="1436.0" y="325.1" font-size="13.7" fill="#131722" textLength="56.7" lengthAdjust="spacingAndGlyphs">(830,72)</text>
<text x="1436.0" y="383.6" font-size="13.7" fill="#131722" textLength="56.7" lengthAdjust="spacingAndGlyphs">(762,10)</text>
<text x="1436.0" y="393.9" font-size="13.7" fill="#131722" textLength="56.7" lengthAdjust="spacingAndGlyphs">(750,69)</text>
<text x="1436.0" y="451.4" font-size="13.7" fill="#131722" textLength="56.7" lengthAdjust="spacingAndGlyphs">(689,68)</text>
<text x="1436.0" y="461.7" font-size="13.7" fill="#131722" textLength="56.7" lengthAdjust="spacingAndGlyphs">(679,35)</text>
<text x="1515" y="105.9" font-size="14.3" fill="#131722" textLength="59.8" lengthAdjust="spacingAndGlyphs">1.170,00</text>
<text x="1515" y="154.0" font-size="14.3" fill="#131722" textLength="59.8" lengthAdjust="spacingAndGlyphs">1.090,00</text>
<text x="1515" y="205.7" font-size="14.3" fill="#131722" textLength="59.8" lengthAdjust="spacingAndGlyphs">1.010,00</text>
<text x="1515" y="261.8" font-size="14.3" fill="#131722" textLength="47.8" lengthAdjust="spacingAndGlyphs">930,00</text>
<text x="1515" y="299.3" font-size="14.3" fill="#131722" textLength="47.8" lengthAdjust="spacingAndGlyphs">880,00</text>
<text x="1515" y="339.1" font-size="14.3" fill="#131722" textLength="47.8" lengthAdjust="spacingAndGlyphs">830,00</text>
<text x="1515" y="390.0" font-size="14.3" fill="#131722" textLength="47.8" lengthAdjust="spacingAndGlyphs">770,00</text>
<text x="1515" y="426.2" font-size="14.3" fill="#131722" textLength="47.8" lengthAdjust="spacingAndGlyphs">730,00</text>
<text x="1515" y="464.5" font-size="14.3" fill="#131722" textLength="47.8" lengthAdjust="spacingAndGlyphs">690,00</text>
<text x="1515" y="505.1" font-size="14.3" fill="#131722" textLength="47.8" lengthAdjust="spacingAndGlyphs">650,00</text>
<text x="1515" y="548.2" font-size="14.3" fill="#131722" textLength="47.8" lengthAdjust="spacingAndGlyphs">610,00</text>
<text x="1515" y="594.3" font-size="14.3" fill="#131722" textLength="47.8" lengthAdjust="spacingAndGlyphs">570,00</text>
<text x="1515" y="631.0" font-size="14.3" fill="#131722" textLength="47.8" lengthAdjust="spacingAndGlyphs">540,00</text>
<text x="1515" y="669.8" font-size="14.3" fill="#131722" textLength="47.8" lengthAdjust="spacingAndGlyphs">510,00</text>
<text x="1515" y="711.0" font-size="14.3" fill="#131722" textLength="47.8" lengthAdjust="spacingAndGlyphs">480,00</text>
<text x="1515" y="751.8" font-size="14.3" fill="#131722" textLength="47.8" lengthAdjust="spacingAndGlyphs">452,00</text>
<text x="1515" y="788.9" font-size="14.3" fill="#131722" textLength="47.8" lengthAdjust="spacingAndGlyphs">428,00</text>
<rect x="1507.5" y="36.5" width="76" height="30" rx="4.5" fill="#fff" stroke="#f0f1f4" stroke-width="1"/>
<text x="1519" y="56.4" font-size="14" fill="#131722" textLength="37" lengthAdjust="spacingAndGlyphs">USDT</text>
<rect x="1504.3" y="108.2" width="77.5" height="35.5" rx="2" fill="#F5821F"/>
<text x="1516" y="121.9" font-size="14" fill="#fff" textLength="59" lengthAdjust="spacingAndGlyphs">1.142,22</text>
<text x="1514.5" y="138.6" font-size="14" fill="#fff" fill-opacity="0.72" textLength="60.5" lengthAdjust="spacingAndGlyphs">06:12:27</text>
<text x="21.5" y="55" font-size="13.4" fill="#131722" textLength="256" lengthAdjust="spacingAndGlyphs">Binance Coin / TetherUS · 1G · Binance</text>
<text x="286.3" y="55" font-size="13.4" fill="#131722" textLength="8.7" lengthAdjust="spacingAndGlyphs">A</text>
<text x="295.9" y="55" font-size="13.4" fill="#F28C28" textLength="55.7" lengthAdjust="spacingAndGlyphs">1.090,22</text>
<text x="361.3" y="55" font-size="13.4" fill="#131722" textLength="8.2" lengthAdjust="spacingAndGlyphs">Y</text>
<text x="370.3" y="55" font-size="13.4" fill="#F28C28" textLength="54.4" lengthAdjust="spacingAndGlyphs">1.168,00</text>
<text x="434.6" y="55" font-size="13.4" fill="#131722" textLength="8.2" lengthAdjust="spacingAndGlyphs">D</text>
<text x="444.7" y="55" font-size="13.4" fill="#F28C28" textLength="56.3" lengthAdjust="spacingAndGlyphs">1.083,84</text>
<text x="511" y="55" font-size="13.4" fill="#131722" textLength="8" lengthAdjust="spacingAndGlyphs">K</text>
<text x="519.7" y="55" font-size="13.4" fill="#F28C28" textLength="53.7" lengthAdjust="spacingAndGlyphs">1.142,22</text>
<text x="583.1" y="55" font-size="13.4" fill="#F28C28" textLength="45.4" lengthAdjust="spacingAndGlyphs">+52,00</text>
<text x="635.2" y="55" font-size="13.4" fill="#F28C28" textLength="58.8" lengthAdjust="spacingAndGlyphs">(+4,77%)</text>
<clipPath id="tax"><rect x="12" y="812" width="1491.6" height="33"/></clipPath>
<g clip-path="url(#tax)" font-size="13.8" text-anchor="middle">
<text x="15.8" y="834.5" fill="#131722">Haz</text>
<text x="101.8" y="834.5" fill="#131722">Tem</text>
<text x="190.7" y="834.5" fill="#131722">Ağu</text>
<text x="279.6" y="834.5" fill="#131722">Eyl</text>
<text x="365.7" y="834.5" fill="#131722">Eki</text>
<text x="454.6" y="834.5" fill="#131722">Kas</text>
<text x="540.6" y="834.5" fill="#131722">Ara</text>
<text x="629.5" y="834.5" font-weight="bold" font-size="14" fill="#131722" textLength="37.5" lengthAdjust="spacingAndGlyphs">2025</text>
<text x="718.4" y="834.5" fill="#131722">Şub</text>
<text x="798.7" y="834.5" fill="#131722">Mar</text>
<text x="887.7" y="834.5" fill="#131722">Nis</text>
<text x="973.7" y="834.5" fill="#131722">May</text>
<text x="1062.6" y="834.5" fill="#131722">Haz</text>
<text x="1148.6" y="834.5" fill="#131722">Tem</text>
<text x="1237.6" y="834.5" fill="#131722">Ağu</text>
<text x="1326.5" y="834.5" fill="#131722">Eyl</text>
<text x="1412.5" y="834.5" fill="#131722">Eki</text>
<text x="1501.4" y="834.5" fill="#131722">Kas</text>
</g>
<rect x="1404" y="785.5" width="30" height="25" fill="#fff"/>
<g fill="none" stroke="#82209F" stroke-width="1.7" stroke-linecap="round">
<path d="M1429.46 794.52 A11.5 11.5 0 1 1 1421.85 786.36"/>
</g>
<path d="M1421.7 791.4 L1412.9 797.7 L1418.5 798.3 L1414.2 804 L1423.2 797.1 L1417.5 796.5 Z" fill="#82209F"/>
<circle cx="1426.2" cy="789.2" r="3.6" fill="#fff"/><circle cx="1426.2" cy="789.2" r="2.95" fill="#F23645"/>
<g fill="#131722">
<path d="M14.2 871.2 H28.5 V888.7 H21 V879.6 H14.2 Z"/>
<circle cx="33.7" cy="874.6" r="3.4"/>
<path d="M39.6 871.2 H48.8 L42 888.7 H34.4 Z"/>
<text x="58.5" y="888.7" font-size="24" font-weight="bold" textLength="141.6" lengthAdjust="spacingAndGlyphs">TradingView</text>
</g>
</svg></body></html>
